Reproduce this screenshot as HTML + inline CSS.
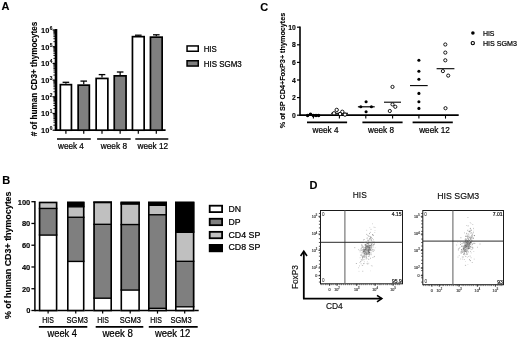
<!DOCTYPE html>
<html><head><meta charset="utf-8"><style>
html,body{margin:0;padding:0;background:#fff;width:520px;height:341px;overflow:hidden}
svg{display:block}
text{font-family:"Liberation Sans",sans-serif}
</style></head><body>
<svg style="filter:grayscale(1)" width="520" height="341" viewBox="0 0 520 341">
<rect width="520" height="341" fill="#fff"/>
<text x="1.6" y="9.5" font-size="11" font-weight="bold" text-anchor="start" fill="#000" stroke="#000" stroke-width="0.12">A</text>
<text transform="translate(37.4,78.9) rotate(-90)" x="0" y="0" font-size="8.8" font-weight="bold" text-anchor="middle" fill="#000" textLength="114.6" lengthAdjust="spacingAndGlyphs" stroke="#000" stroke-width="0.12"># of human CD3+ thymocytes</text>
<line x1="56.0" y1="29.0" x2="56.0" y2="131" stroke="#000" stroke-width="2.6"/>
<line x1="52.6" y1="130.2" x2="56.0" y2="130.2" stroke="#000" stroke-width="1.2"/>
<text x="49.3" y="133.1" font-size="7.4" font-weight="bold" text-anchor="end" fill="#000" stroke="#000" stroke-width="0.12">10</text>
<text x="49.7" y="130.1" font-size="4.8" font-weight="bold" text-anchor="start" fill="#000" stroke="#000" stroke-width="0.12">0</text>
<line x1="53.4" y1="125.17279907241151" x2="56.0" y2="125.17279907241151" stroke="#000" stroke-width="0.9"/>
<line x1="53.4" y1="122.23207504618162" x2="56.0" y2="122.23207504618162" stroke="#000" stroke-width="0.9"/>
<line x1="53.4" y1="120.14559814482301" x2="56.0" y2="120.14559814482301" stroke="#000" stroke-width="0.9"/>
<line x1="53.4" y1="118.52720092758847" x2="56.0" y2="118.52720092758847" stroke="#000" stroke-width="0.9"/>
<line x1="53.4" y1="117.20487411859314" x2="56.0" y2="117.20487411859314" stroke="#000" stroke-width="0.9"/>
<line x1="53.4" y1="116.0868627317619" x2="56.0" y2="116.0868627317619" stroke="#000" stroke-width="0.9"/>
<line x1="53.4" y1="115.11839721723453" x2="56.0" y2="115.11839721723453" stroke="#000" stroke-width="0.9"/>
<line x1="53.4" y1="114.26415009236327" x2="56.0" y2="114.26415009236327" stroke="#000" stroke-width="0.9"/>
<line x1="52.6" y1="113.49999999999999" x2="56.0" y2="113.49999999999999" stroke="#000" stroke-width="1.2"/>
<text x="49.3" y="116.39999999999999" font-size="7.4" font-weight="bold" text-anchor="end" fill="#000" stroke="#000" stroke-width="0.12">10</text>
<text x="49.7" y="113.39999999999999" font-size="4.8" font-weight="bold" text-anchor="start" fill="#000" stroke="#000" stroke-width="0.12">1</text>
<line x1="53.4" y1="108.4727990724115" x2="56.0" y2="108.4727990724115" stroke="#000" stroke-width="0.9"/>
<line x1="53.4" y1="105.53207504618162" x2="56.0" y2="105.53207504618162" stroke="#000" stroke-width="0.9"/>
<line x1="53.4" y1="103.44559814482301" x2="56.0" y2="103.44559814482301" stroke="#000" stroke-width="0.9"/>
<line x1="53.4" y1="101.82720092758848" x2="56.0" y2="101.82720092758848" stroke="#000" stroke-width="0.9"/>
<line x1="53.4" y1="100.50487411859314" x2="56.0" y2="100.50487411859314" stroke="#000" stroke-width="0.9"/>
<line x1="53.4" y1="99.3868627317619" x2="56.0" y2="99.3868627317619" stroke="#000" stroke-width="0.9"/>
<line x1="53.4" y1="98.41839721723453" x2="56.0" y2="98.41839721723453" stroke="#000" stroke-width="0.9"/>
<line x1="53.4" y1="97.56415009236326" x2="56.0" y2="97.56415009236326" stroke="#000" stroke-width="0.9"/>
<line x1="52.6" y1="96.79999999999998" x2="56.0" y2="96.79999999999998" stroke="#000" stroke-width="1.2"/>
<text x="49.3" y="99.69999999999999" font-size="7.4" font-weight="bold" text-anchor="end" fill="#000" stroke="#000" stroke-width="0.12">10</text>
<text x="49.7" y="96.69999999999999" font-size="4.8" font-weight="bold" text-anchor="start" fill="#000" stroke="#000" stroke-width="0.12">2</text>
<line x1="53.4" y1="91.7727990724115" x2="56.0" y2="91.7727990724115" stroke="#000" stroke-width="0.9"/>
<line x1="53.4" y1="88.83207504618161" x2="56.0" y2="88.83207504618161" stroke="#000" stroke-width="0.9"/>
<line x1="53.4" y1="86.745598144823" x2="56.0" y2="86.745598144823" stroke="#000" stroke-width="0.9"/>
<line x1="53.4" y1="85.12720092758846" x2="56.0" y2="85.12720092758846" stroke="#000" stroke-width="0.9"/>
<line x1="53.4" y1="83.80487411859313" x2="56.0" y2="83.80487411859313" stroke="#000" stroke-width="0.9"/>
<line x1="53.4" y1="82.68686273176189" x2="56.0" y2="82.68686273176189" stroke="#000" stroke-width="0.9"/>
<line x1="53.4" y1="81.71839721723452" x2="56.0" y2="81.71839721723452" stroke="#000" stroke-width="0.9"/>
<line x1="53.4" y1="80.86415009236326" x2="56.0" y2="80.86415009236326" stroke="#000" stroke-width="0.9"/>
<line x1="52.6" y1="80.1" x2="56.0" y2="80.1" stroke="#000" stroke-width="1.2"/>
<text x="49.3" y="83.0" font-size="7.4" font-weight="bold" text-anchor="end" fill="#000" stroke="#000" stroke-width="0.12">10</text>
<text x="49.7" y="80.0" font-size="4.8" font-weight="bold" text-anchor="start" fill="#000" stroke="#000" stroke-width="0.12">3</text>
<line x1="53.4" y1="75.07279907241151" x2="56.0" y2="75.07279907241151" stroke="#000" stroke-width="0.9"/>
<line x1="53.4" y1="72.13207504618163" x2="56.0" y2="72.13207504618163" stroke="#000" stroke-width="0.9"/>
<line x1="53.4" y1="70.04559814482302" x2="56.0" y2="70.04559814482302" stroke="#000" stroke-width="0.9"/>
<line x1="53.4" y1="68.42720092758847" x2="56.0" y2="68.42720092758847" stroke="#000" stroke-width="0.9"/>
<line x1="53.4" y1="67.10487411859314" x2="56.0" y2="67.10487411859314" stroke="#000" stroke-width="0.9"/>
<line x1="53.4" y1="65.9868627317619" x2="56.0" y2="65.9868627317619" stroke="#000" stroke-width="0.9"/>
<line x1="53.4" y1="65.01839721723454" x2="56.0" y2="65.01839721723454" stroke="#000" stroke-width="0.9"/>
<line x1="53.4" y1="64.16415009236327" x2="56.0" y2="64.16415009236327" stroke="#000" stroke-width="0.9"/>
<line x1="52.6" y1="63.39999999999999" x2="56.0" y2="63.39999999999999" stroke="#000" stroke-width="1.2"/>
<text x="49.3" y="66.3" font-size="7.4" font-weight="bold" text-anchor="end" fill="#000" stroke="#000" stroke-width="0.12">10</text>
<text x="49.7" y="63.29999999999999" font-size="4.8" font-weight="bold" text-anchor="start" fill="#000" stroke="#000" stroke-width="0.12">4</text>
<line x1="53.4" y1="58.3727990724115" x2="56.0" y2="58.3727990724115" stroke="#000" stroke-width="0.9"/>
<line x1="53.4" y1="55.43207504618163" x2="56.0" y2="55.43207504618163" stroke="#000" stroke-width="0.9"/>
<line x1="53.4" y1="53.34559814482302" x2="56.0" y2="53.34559814482302" stroke="#000" stroke-width="0.9"/>
<line x1="53.4" y1="51.72720092758848" x2="56.0" y2="51.72720092758848" stroke="#000" stroke-width="0.9"/>
<line x1="53.4" y1="50.40487411859314" x2="56.0" y2="50.40487411859314" stroke="#000" stroke-width="0.9"/>
<line x1="53.4" y1="49.2868627317619" x2="56.0" y2="49.2868627317619" stroke="#000" stroke-width="0.9"/>
<line x1="53.4" y1="48.31839721723453" x2="56.0" y2="48.31839721723453" stroke="#000" stroke-width="0.9"/>
<line x1="53.4" y1="47.46415009236327" x2="56.0" y2="47.46415009236327" stroke="#000" stroke-width="0.9"/>
<line x1="52.6" y1="46.69999999999999" x2="56.0" y2="46.69999999999999" stroke="#000" stroke-width="1.2"/>
<text x="49.3" y="49.59999999999999" font-size="7.4" font-weight="bold" text-anchor="end" fill="#000" stroke="#000" stroke-width="0.12">10</text>
<text x="49.7" y="46.59999999999999" font-size="4.8" font-weight="bold" text-anchor="start" fill="#000" stroke="#000" stroke-width="0.12">5</text>
<line x1="53.4" y1="41.6727990724115" x2="56.0" y2="41.6727990724115" stroke="#000" stroke-width="0.9"/>
<line x1="53.4" y1="38.73207504618163" x2="56.0" y2="38.73207504618163" stroke="#000" stroke-width="0.9"/>
<line x1="53.4" y1="36.64559814482302" x2="56.0" y2="36.64559814482302" stroke="#000" stroke-width="0.9"/>
<line x1="53.4" y1="35.027200927588474" x2="56.0" y2="35.027200927588474" stroke="#000" stroke-width="0.9"/>
<line x1="53.4" y1="33.70487411859314" x2="56.0" y2="33.70487411859314" stroke="#000" stroke-width="0.9"/>
<line x1="53.4" y1="32.5868627317619" x2="56.0" y2="32.5868627317619" stroke="#000" stroke-width="0.9"/>
<line x1="53.4" y1="31.61839721723453" x2="56.0" y2="31.61839721723453" stroke="#000" stroke-width="0.9"/>
<line x1="53.4" y1="30.764150092363266" x2="56.0" y2="30.764150092363266" stroke="#000" stroke-width="0.9"/>
<line x1="52.6" y1="30.0" x2="56.0" y2="30.0" stroke="#000" stroke-width="1.2"/>
<text x="49.3" y="32.9" font-size="7.4" font-weight="bold" text-anchor="end" fill="#000" stroke="#000" stroke-width="0.12">10</text>
<text x="49.7" y="29.9" font-size="4.8" font-weight="bold" text-anchor="start" fill="#000" stroke="#000" stroke-width="0.12">6</text>
<line x1="55" y1="130.2" x2="165.6" y2="130.2" stroke="#000" stroke-width="1.7"/>
<line x1="65.9" y1="83.8" x2="65.9" y2="82.3" stroke="#000" stroke-width="1.2"/>
<line x1="62.60000000000001" y1="82.3" x2="69.2" y2="82.3" stroke="#000" stroke-width="1.3"/>
<rect x="60.35" y="84.64999999999999" width="11.099999999999998" height="45.54999999999999" fill="#fff" stroke="#000" stroke-width="1.7"/>
<line x1="65.9" y1="130.2" x2="65.9" y2="133.8" stroke="#000" stroke-width="1.2"/>
<line x1="83.75" y1="84.3" x2="83.75" y2="81.1" stroke="#000" stroke-width="1.2"/>
<line x1="80.45" y1="81.1" x2="87.05" y2="81.1" stroke="#000" stroke-width="1.3"/>
<rect x="78.14999999999999" y="85.14999999999999" width="11.200000000000006" height="45.04999999999999" fill="#7f7f7f" stroke="#000" stroke-width="1.7"/>
<line x1="83.75" y1="130.2" x2="83.75" y2="133.8" stroke="#000" stroke-width="1.2"/>
<line x1="102.0" y1="77.6" x2="102.0" y2="74.6" stroke="#000" stroke-width="1.2"/>
<line x1="98.7" y1="74.6" x2="105.3" y2="74.6" stroke="#000" stroke-width="1.3"/>
<rect x="96.14999999999999" y="78.44999999999999" width="11.700000000000006" height="51.74999999999999" fill="#fff" stroke="#000" stroke-width="1.7"/>
<line x1="102.0" y1="130.2" x2="102.0" y2="133.8" stroke="#000" stroke-width="1.2"/>
<line x1="120.15" y1="75.0" x2="120.15" y2="72.0" stroke="#000" stroke-width="1.2"/>
<line x1="116.85000000000001" y1="72.0" x2="123.45" y2="72.0" stroke="#000" stroke-width="1.3"/>
<rect x="114.25" y="75.85" width="11.8" height="54.34999999999999" fill="#7f7f7f" stroke="#000" stroke-width="1.7"/>
<line x1="120.15" y1="130.2" x2="120.15" y2="133.8" stroke="#000" stroke-width="1.2"/>
<line x1="138.3" y1="35.8" x2="138.3" y2="35.2" stroke="#000" stroke-width="1.2"/>
<line x1="135.0" y1="35.2" x2="141.60000000000002" y2="35.2" stroke="#000" stroke-width="1.3"/>
<rect x="132.45" y="36.65" width="11.700000000000006" height="93.55" fill="#fff" stroke="#000" stroke-width="1.7"/>
<line x1="138.3" y1="130.2" x2="138.3" y2="133.8" stroke="#000" stroke-width="1.2"/>
<line x1="156.3" y1="36.3" x2="156.3" y2="34.8" stroke="#000" stroke-width="1.2"/>
<line x1="153.0" y1="34.8" x2="159.60000000000002" y2="34.8" stroke="#000" stroke-width="1.3"/>
<rect x="150.45" y="37.15" width="11.700000000000006" height="93.05" fill="#7f7f7f" stroke="#000" stroke-width="1.7"/>
<line x1="156.3" y1="130.2" x2="156.3" y2="133.8" stroke="#000" stroke-width="1.2"/>
<line x1="57" y1="139" x2="90.8" y2="139" stroke="#000" stroke-width="1.5"/>
<text x="58" y="148.5" font-size="8.5" font-weight="normal" text-anchor="start" fill="#000" textLength="25.900000000000006" lengthAdjust="spacingAndGlyphs" stroke="#000" stroke-width="0.22">week 4</text>
<line x1="97.1" y1="139" x2="130.7" y2="139" stroke="#000" stroke-width="1.5"/>
<text x="100.75" y="148.5" font-size="8.5" font-weight="normal" text-anchor="start" fill="#000" textLength="26.25" lengthAdjust="spacingAndGlyphs" stroke="#000" stroke-width="0.22">week 8</text>
<line x1="135.3" y1="139" x2="168.3" y2="139" stroke="#000" stroke-width="1.5"/>
<text x="137.5" y="148.5" font-size="8.5" font-weight="normal" text-anchor="start" fill="#000" textLength="30.69999999999999" lengthAdjust="spacingAndGlyphs" stroke="#000" stroke-width="0.22">week 12</text>
<rect x="187.05" y="45.95" width="11.2" height="5.3" fill="#fff" stroke="#000" stroke-width="1.5"/>
<rect x="187.05" y="60.75" width="11.2" height="5.3" fill="#7f7f7f" stroke="#000" stroke-width="1.5"/>
<text x="203.7" y="51.5" font-size="8.3" font-weight="normal" text-anchor="start" fill="#000" textLength="13.1" lengthAdjust="spacingAndGlyphs" stroke="#000" stroke-width="0.22">HIS</text>
<text x="203.7" y="67.1" font-size="8.3" font-weight="normal" text-anchor="start" fill="#000" textLength="38" lengthAdjust="spacingAndGlyphs" stroke="#000" stroke-width="0.22">HIS SGM3</text>
<text x="260.3" y="10.8" font-size="11" font-weight="bold" text-anchor="start" fill="#000" stroke="#000" stroke-width="0.12">C</text>
<text transform="translate(285.0,70.5) rotate(-90)" x="0" y="0" font-size="6.8" font-weight="bold" text-anchor="middle" fill="#000" textLength="115.6" lengthAdjust="spacingAndGlyphs" stroke="#000" stroke-width="0.12">% of SP CD4+FoxP3+ thymocytes</text>
<line x1="300" y1="26.6" x2="300" y2="116.0" stroke="#000" stroke-width="1.6"/>
<line x1="297" y1="115.2" x2="300" y2="115.2" stroke="#000" stroke-width="1.2"/>
<text x="295.7" y="117.7" font-size="6.8" font-weight="bold" text-anchor="end" fill="#000" stroke="#000" stroke-width="0.12">0</text>
<line x1="297" y1="97.6" x2="300" y2="97.6" stroke="#000" stroke-width="1.2"/>
<text x="295.7" y="100.1" font-size="6.8" font-weight="bold" text-anchor="end" fill="#000" stroke="#000" stroke-width="0.12">2</text>
<line x1="297" y1="80.0" x2="300" y2="80.0" stroke="#000" stroke-width="1.2"/>
<text x="295.7" y="82.5" font-size="6.8" font-weight="bold" text-anchor="end" fill="#000" stroke="#000" stroke-width="0.12">4</text>
<line x1="297" y1="62.4" x2="300" y2="62.4" stroke="#000" stroke-width="1.2"/>
<text x="295.7" y="64.9" font-size="6.8" font-weight="bold" text-anchor="end" fill="#000" stroke="#000" stroke-width="0.12">6</text>
<line x1="297" y1="44.8" x2="300" y2="44.8" stroke="#000" stroke-width="1.2"/>
<text x="295.7" y="47.3" font-size="6.8" font-weight="bold" text-anchor="end" fill="#000" stroke="#000" stroke-width="0.12">8</text>
<line x1="297" y1="27.200000000000003" x2="300" y2="27.200000000000003" stroke="#000" stroke-width="1.2"/>
<text x="295.7" y="29.700000000000003" font-size="6.8" font-weight="bold" text-anchor="end" fill="#000" stroke="#000" stroke-width="0.12">10</text>
<line x1="300" y1="115.2" x2="458.7" y2="115.2" stroke="#000" stroke-width="1.8"/>
<line x1="313.4" y1="115.2" x2="313.4" y2="118.6" stroke="#000" stroke-width="1.1"/>
<line x1="339.4" y1="115.2" x2="339.4" y2="118.6" stroke="#000" stroke-width="1.1"/>
<line x1="365.8" y1="115.2" x2="365.8" y2="118.6" stroke="#000" stroke-width="1.1"/>
<line x1="392.6" y1="115.2" x2="392.6" y2="118.6" stroke="#000" stroke-width="1.1"/>
<line x1="418.9" y1="115.2" x2="418.9" y2="118.6" stroke="#000" stroke-width="1.1"/>
<line x1="445.5" y1="115.2" x2="445.5" y2="118.6" stroke="#000" stroke-width="1.1"/>
<line x1="307.0" y1="122.4" x2="347.1" y2="122.4" stroke="#000" stroke-width="1.6"/>
<text x="312.5" y="132.6" font-size="8.3" font-weight="normal" text-anchor="start" fill="#000" textLength="26.0" lengthAdjust="spacingAndGlyphs" stroke="#000" stroke-width="0.22">week 4</text>
<line x1="362.4" y1="122.4" x2="402.6" y2="122.4" stroke="#000" stroke-width="1.6"/>
<text x="368.1" y="132.6" font-size="8.3" font-weight="normal" text-anchor="start" fill="#000" textLength="25.899999999999977" lengthAdjust="spacingAndGlyphs" stroke="#000" stroke-width="0.22">week 8</text>
<line x1="412.6" y1="122.4" x2="452.8" y2="122.4" stroke="#000" stroke-width="1.6"/>
<text x="419.2" y="132.6" font-size="8.3" font-weight="normal" text-anchor="start" fill="#000" textLength="30.600000000000023" lengthAdjust="spacingAndGlyphs" stroke="#000" stroke-width="0.22">week 12</text>
<circle cx="307.6" cy="115.6" r="1.75" fill="#000"/>
<circle cx="310.5" cy="114.3" r="1.75" fill="#000"/>
<circle cx="313.3" cy="115.4" r="1.75" fill="#000"/>
<circle cx="316.0" cy="115.5" r="1.75" fill="#000"/>
<circle cx="318.6" cy="115.4" r="1.75" fill="#000"/>
<line x1="308" y1="115" x2="319" y2="115" stroke="#000" stroke-width="1.2"/>
<line x1="331.2" y1="113.3" x2="348" y2="113.3" stroke="#000" stroke-width="1.1"/>
<circle cx="336.7" cy="109.9" r="1.7" fill="#fff" stroke="#000" stroke-width="0.9"/>
<circle cx="342.3" cy="111.8" r="1.7" fill="#fff" stroke="#000" stroke-width="0.9"/>
<circle cx="340.1" cy="114.0" r="1.7" fill="#fff" stroke="#000" stroke-width="0.9"/>
<circle cx="345.0" cy="114.6" r="1.7" fill="#fff" stroke="#000" stroke-width="0.9"/>
<circle cx="334.0" cy="113.3" r="1.7" fill="#fff" stroke="#000" stroke-width="0.9"/>
<line x1="357.9" y1="106.8" x2="374.7" y2="106.8" stroke="#000" stroke-width="1.2"/>
<circle cx="366.1" cy="101.8" r="1.55" fill="#000"/>
<circle cx="360.8" cy="106.8" r="1.55" fill="#000"/>
<circle cx="371.4" cy="106.8" r="1.55" fill="#000"/>
<circle cx="366.1" cy="111.7" r="1.55" fill="#000"/>
<line x1="384" y1="102.2" x2="401" y2="102.2" stroke="#000" stroke-width="1.1"/>
<circle cx="392.5" cy="86.9" r="1.6" fill="#fff" stroke="#000" stroke-width="0.9"/>
<circle cx="392.5" cy="104.4" r="1.6" fill="#fff" stroke="#000" stroke-width="0.9"/>
<circle cx="395.3" cy="106.8" r="1.6" fill="#fff" stroke="#000" stroke-width="0.9"/>
<circle cx="389.8" cy="111.0" r="1.6" fill="#fff" stroke="#000" stroke-width="0.9"/>
<line x1="410" y1="85.6" x2="427.7" y2="85.6" stroke="#000" stroke-width="1.1"/>
<circle cx="418.9" cy="60.3" r="1.55" fill="#000"/>
<circle cx="418.9" cy="71.2" r="1.55" fill="#000"/>
<circle cx="418.9" cy="79.2" r="1.55" fill="#000"/>
<circle cx="418.9" cy="93.4" r="1.55" fill="#000"/>
<circle cx="418.9" cy="101.8" r="1.55" fill="#000"/>
<circle cx="418.9" cy="108.4" r="1.55" fill="#000"/>
<line x1="436.6" y1="68.7" x2="454.4" y2="68.7" stroke="#000" stroke-width="1.1"/>
<circle cx="445.3" cy="44.5" r="1.6" fill="#fff" stroke="#000" stroke-width="0.9"/>
<circle cx="445.3" cy="52.6" r="1.6" fill="#fff" stroke="#000" stroke-width="0.9"/>
<circle cx="445.3" cy="60.3" r="1.6" fill="#fff" stroke="#000" stroke-width="0.9"/>
<circle cx="442.9" cy="71.1" r="1.6" fill="#fff" stroke="#000" stroke-width="0.9"/>
<circle cx="448.2" cy="75.6" r="1.6" fill="#fff" stroke="#000" stroke-width="0.9"/>
<circle cx="445.5" cy="108.2" r="1.6" fill="#fff" stroke="#000" stroke-width="0.9"/>
<circle cx="472.9" cy="33.0" r="1.8" fill="#000"/>
<circle cx="472.8" cy="43.1" r="1.65" fill="#fff" stroke="#000" stroke-width="1.1"/>
<text x="482.9" y="35.6" font-size="7.5" font-weight="normal" text-anchor="start" fill="#000" textLength="11.6" lengthAdjust="spacingAndGlyphs" stroke="#000" stroke-width="0.22">HIS</text>
<text x="482.9" y="45.7" font-size="7.5" font-weight="normal" text-anchor="start" fill="#000" textLength="34" lengthAdjust="spacingAndGlyphs" stroke="#000" stroke-width="0.22">HIS SGM3</text>
<text x="2.2" y="184.3" font-size="11" font-weight="bold" text-anchor="start" fill="#000" stroke="#000" stroke-width="0.12">B</text>
<text transform="translate(11.0,255.3) rotate(-90)" x="0" y="0" font-size="9.2" font-weight="bold" text-anchor="middle" fill="#000" textLength="127.6" lengthAdjust="spacingAndGlyphs" stroke="#000" stroke-width="0.12">% of human CD3+ thymocytes</text>
<line x1="34.9" y1="201.0" x2="34.9" y2="311.2" stroke="#000" stroke-width="1.5"/>
<line x1="31.4" y1="310.5" x2="34.9" y2="310.5" stroke="#000" stroke-width="1.3"/>
<text x="30.3" y="313.3" font-size="7.5" font-weight="bold" text-anchor="end" fill="#000" stroke="#000" stroke-width="0.12">0</text>
<line x1="31.4" y1="288.74" x2="34.9" y2="288.74" stroke="#000" stroke-width="1.3"/>
<text x="30.3" y="291.54" font-size="7.5" font-weight="bold" text-anchor="end" fill="#000" stroke="#000" stroke-width="0.12">20</text>
<line x1="31.4" y1="266.98" x2="34.9" y2="266.98" stroke="#000" stroke-width="1.3"/>
<text x="30.3" y="269.78000000000003" font-size="7.5" font-weight="bold" text-anchor="end" fill="#000" stroke="#000" stroke-width="0.12">40</text>
<line x1="31.4" y1="245.22" x2="34.9" y2="245.22" stroke="#000" stroke-width="1.3"/>
<text x="30.3" y="248.02" font-size="7.5" font-weight="bold" text-anchor="end" fill="#000" stroke="#000" stroke-width="0.12">60</text>
<line x1="31.4" y1="223.45999999999998" x2="34.9" y2="223.45999999999998" stroke="#000" stroke-width="1.3"/>
<text x="30.3" y="226.26" font-size="7.5" font-weight="bold" text-anchor="end" fill="#000" stroke="#000" stroke-width="0.12">80</text>
<line x1="31.4" y1="201.7" x2="34.9" y2="201.7" stroke="#000" stroke-width="1.3"/>
<text x="30.3" y="204.5" font-size="7.5" font-weight="bold" text-anchor="end" fill="#000" stroke="#000" stroke-width="0.12">100</text>
<line x1="34.9" y1="310.5" x2="198.7" y2="310.5" stroke="#000" stroke-width="1.5"/>
<rect x="38.8" y="235.1016" width="18.6" height="75.39840000000001" fill="#ffffff"/>
<rect x="38.8" y="208.4456" width="18.6" height="26.655999999999977" fill="#7f7f7f"/>
<line x1="38.8" y1="235.1016" x2="57.4" y2="235.1016" stroke="#000" stroke-width="1.4"/>
<rect x="38.8" y="201.7" width="18.6" height="6.7456000000000245" fill="#c0c0c0"/>
<line x1="38.8" y1="208.4456" x2="57.4" y2="208.4456" stroke="#000" stroke-width="1.4"/>
<rect x="39.599999999999994" y="202.5" width="17.0" height="108.00000000000001" fill="none" stroke="#000" stroke-width="1.6"/>
<line x1="48.099999999999994" y1="310.5" x2="48.099999999999994" y2="313.6" stroke="#000" stroke-width="1.2"/>
<rect x="67" y="261.4312" width="17.5" height="49.06880000000001" fill="#ffffff"/>
<rect x="67" y="217.2584" width="17.5" height="44.172799999999995" fill="#7f7f7f"/>
<line x1="67" y1="261.4312" x2="84.5" y2="261.4312" stroke="#000" stroke-width="1.4"/>
<rect x="67" y="206.8136" width="17.5" height="10.444799999999987" fill="#c0c0c0"/>
<line x1="67" y1="217.2584" x2="84.5" y2="217.2584" stroke="#000" stroke-width="1.4"/>
<rect x="67" y="201.7" width="17.5" height="5.1136000000000195" fill="#000000"/>
<line x1="67" y1="206.8136" x2="84.5" y2="206.8136" stroke="#000" stroke-width="1.4"/>
<rect x="67.8" y="202.5" width="15.9" height="108.00000000000001" fill="none" stroke="#000" stroke-width="1.6"/>
<line x1="75.75" y1="310.5" x2="75.75" y2="313.6" stroke="#000" stroke-width="1.2"/>
<rect x="93.3" y="298.2056" width="18.700000000000003" height="12.294399999999996" fill="#ffffff"/>
<rect x="93.3" y="224.3304" width="18.700000000000003" height="73.8752" fill="#7f7f7f"/>
<line x1="93.3" y1="298.2056" x2="112" y2="298.2056" stroke="#000" stroke-width="1.4"/>
<rect x="93.3" y="202.1352" width="18.700000000000003" height="22.1952" fill="#c0c0c0"/>
<line x1="93.3" y1="224.3304" x2="112" y2="224.3304" stroke="#000" stroke-width="1.4"/>
<rect x="93.3" y="201.7" width="18.700000000000003" height="0.4352000000000089" fill="#000000"/>
<line x1="93.3" y1="202.1352" x2="112" y2="202.1352" stroke="#000" stroke-width="1.4"/>
<rect x="94.1" y="202.5" width="17.1" height="108.00000000000001" fill="none" stroke="#000" stroke-width="1.6"/>
<line x1="102.65" y1="310.5" x2="102.65" y2="313.6" stroke="#000" stroke-width="1.2"/>
<rect x="120.5" y="290.1" width="19.400000000000006" height="20.399999999999977" fill="#ffffff"/>
<rect x="120.5" y="224.548" width="19.400000000000006" height="65.55200000000002" fill="#7f7f7f"/>
<line x1="120.5" y1="290.1" x2="139.9" y2="290.1" stroke="#000" stroke-width="1.4"/>
<rect x="120.5" y="204.09359999999998" width="19.400000000000006" height="20.45440000000002" fill="#c0c0c0"/>
<line x1="120.5" y1="224.548" x2="139.9" y2="224.548" stroke="#000" stroke-width="1.4"/>
<rect x="120.5" y="201.7" width="19.400000000000006" height="2.393599999999992" fill="#000000"/>
<line x1="120.5" y1="204.09359999999998" x2="139.9" y2="204.09359999999998" stroke="#000" stroke-width="1.4"/>
<rect x="121.3" y="202.5" width="17.800000000000004" height="108.00000000000001" fill="none" stroke="#000" stroke-width="1.6"/>
<line x1="130.2" y1="310.5" x2="130.2" y2="313.6" stroke="#000" stroke-width="1.2"/>
<rect x="148" y="308.324" width="19" height="2.1759999999999877" fill="#ffffff"/>
<rect x="148" y="214.756" width="19" height="93.56800000000001" fill="#7f7f7f"/>
<line x1="148" y1="308.324" x2="167" y2="308.324" stroke="#000" stroke-width="1.4"/>
<rect x="148" y="205.29039999999998" width="19" height="9.465600000000023" fill="#c0c0c0"/>
<line x1="148" y1="214.756" x2="167" y2="214.756" stroke="#000" stroke-width="1.4"/>
<rect x="148" y="201.7" width="19" height="3.5903999999999883" fill="#000000"/>
<line x1="148" y1="205.29039999999998" x2="167" y2="205.29039999999998" stroke="#000" stroke-width="1.4"/>
<rect x="148.8" y="202.5" width="17.4" height="108.00000000000001" fill="none" stroke="#000" stroke-width="1.6"/>
<line x1="157.5" y1="310.5" x2="157.5" y2="313.6" stroke="#000" stroke-width="1.2"/>
<rect x="175" y="306.8008" width="19.400000000000006" height="3.699200000000019" fill="#ffffff"/>
<rect x="175" y="261.3224" width="19.400000000000006" height="45.478399999999965" fill="#7f7f7f"/>
<line x1="175" y1="306.8008" x2="194.4" y2="306.8008" stroke="#000" stroke-width="1.4"/>
<rect x="175" y="232.2728" width="19.400000000000006" height="29.049600000000027" fill="#c0c0c0"/>
<line x1="175" y1="261.3224" x2="194.4" y2="261.3224" stroke="#000" stroke-width="1.4"/>
<rect x="175" y="201.7" width="19.400000000000006" height="30.5728" fill="#000000"/>
<line x1="175" y1="232.2728" x2="194.4" y2="232.2728" stroke="#000" stroke-width="1.4"/>
<rect x="175.8" y="202.5" width="17.800000000000004" height="108.00000000000001" fill="none" stroke="#000" stroke-width="1.6"/>
<line x1="184.7" y1="310.5" x2="184.7" y2="313.6" stroke="#000" stroke-width="1.2"/>
<text x="42.3" y="322.7" font-size="9.0" font-weight="normal" text-anchor="start" fill="#000" textLength="11.6" lengthAdjust="spacingAndGlyphs" stroke="#000" stroke-width="0.22">HIS</text>
<text x="66.6" y="322.7" font-size="9.0" font-weight="normal" text-anchor="start" fill="#000" textLength="21.3" lengthAdjust="spacingAndGlyphs" stroke="#000" stroke-width="0.22">SGM3</text>
<text x="97.2" y="322.7" font-size="9.0" font-weight="normal" text-anchor="start" fill="#000" textLength="11.6" lengthAdjust="spacingAndGlyphs" stroke="#000" stroke-width="0.22">HIS</text>
<text x="119.7" y="322.7" font-size="9.0" font-weight="normal" text-anchor="start" fill="#000" textLength="21.3" lengthAdjust="spacingAndGlyphs" stroke="#000" stroke-width="0.22">SGM3</text>
<text x="150.3" y="322.7" font-size="9.0" font-weight="normal" text-anchor="start" fill="#000" textLength="11.6" lengthAdjust="spacingAndGlyphs" stroke="#000" stroke-width="0.22">HIS</text>
<text x="170.5" y="322.7" font-size="9.0" font-weight="normal" text-anchor="start" fill="#000" textLength="21.3" lengthAdjust="spacingAndGlyphs" stroke="#000" stroke-width="0.22">SGM3</text>
<line x1="38.9" y1="326.8" x2="87.3" y2="326.8" stroke="#000" stroke-width="1.8"/>
<text x="47.5" y="336.7" font-size="10.0" font-weight="normal" text-anchor="start" fill="#000" textLength="29.5" lengthAdjust="spacingAndGlyphs" stroke="#000" stroke-width="0.22">week 4</text>
<line x1="95.7" y1="326.8" x2="143.3" y2="326.8" stroke="#000" stroke-width="1.8"/>
<text x="102.4" y="336.7" font-size="10.0" font-weight="normal" text-anchor="start" fill="#000" textLength="30.599999999999994" lengthAdjust="spacingAndGlyphs" stroke="#000" stroke-width="0.22">week 8</text>
<line x1="148.8" y1="326.8" x2="197.7" y2="326.8" stroke="#000" stroke-width="1.8"/>
<text x="155" y="336.7" font-size="10.0" font-weight="normal" text-anchor="start" fill="#000" textLength="35.19999999999999" lengthAdjust="spacingAndGlyphs" stroke="#000" stroke-width="0.22">week 12</text>
<rect x="209.7" y="205.7" width="12.4" height="6.4" fill="#ffffff" stroke="#000" stroke-width="1.8"/>
<text x="228.4" y="212.2" font-size="8.7" font-weight="normal" text-anchor="start" fill="#000" stroke="#000" stroke-width="0.22">DN</text>
<rect x="209.7" y="218.76999999999998" width="12.4" height="6.4" fill="#7f7f7f" stroke="#000" stroke-width="1.8"/>
<text x="228.4" y="224.88" font-size="8.7" font-weight="normal" text-anchor="start" fill="#000" stroke="#000" stroke-width="0.22">DP</text>
<rect x="209.7" y="231.83999999999997" width="12.4" height="6.4" fill="#c0c0c0" stroke="#000" stroke-width="1.8"/>
<text x="228.4" y="237.56" font-size="8.7" font-weight="normal" text-anchor="start" fill="#000" textLength="31.9" lengthAdjust="spacingAndGlyphs" stroke="#000" stroke-width="0.22">CD4 SP</text>
<rect x="209.7" y="244.91" width="12.4" height="6.4" fill="#000000" stroke="#000" stroke-width="1.8"/>
<text x="228.4" y="250.23999999999998" font-size="8.7" font-weight="normal" text-anchor="start" fill="#000" textLength="31.9" lengthAdjust="spacingAndGlyphs" stroke="#000" stroke-width="0.22">CD8 SP</text>
<text x="309.6" y="189.2" font-size="11" font-weight="bold" text-anchor="start" fill="#000" stroke="#000" stroke-width="0.12">D</text>
<text x="359.8" y="198.4" font-size="9.9" font-weight="normal" text-anchor="middle" fill="#111" textLength="14" lengthAdjust="spacingAndGlyphs" stroke="#111" stroke-width="0.17">HIS</text>
<text x="458.2" y="199.3" font-size="9.9" font-weight="normal" text-anchor="middle" fill="#111" textLength="42" lengthAdjust="spacingAndGlyphs" stroke="#111" stroke-width="0.17">HIS SGM3</text>
<rect x="320.5" y="210.5" width="82.0" height="73.30000000000001" fill="none" stroke="#1a1a1a" stroke-width="1"/>
<line x1="344.9" y1="210.5" x2="344.9" y2="283.8" stroke="#6a6a6a" stroke-width="1.1"/>
<line x1="320.5" y1="242.3" x2="402.5" y2="242.3" stroke="#2a2a2a" stroke-width="1.0"/>
<text x="321.9" y="215.6" font-size="4.6" font-weight="normal" text-anchor="start" fill="#333" stroke="#333" stroke-width="0.05">0</text>
<text x="322.1" y="282.2" font-size="4.6" font-weight="normal" text-anchor="start" fill="#333" stroke="#333" stroke-width="0.05">0</text>
<text x="401.5" y="215.9" font-size="5.0" font-weight="normal" text-anchor="end" fill="#222" stroke="#222" stroke-width="0.22">4.15</text>
<text x="401.7" y="282.6" font-size="5.0" font-weight="normal" text-anchor="end" fill="#222" stroke="#222" stroke-width="0.22">95.9</text>
<line x1="318.5" y1="216.3" x2="320.5" y2="216.3" stroke="#222" stroke-width="0.9"/>
<text x="317.3" y="217.60000000000002" font-size="3.7" font-weight="normal" text-anchor="end" fill="#555" stroke="#555" stroke-width="0.22">10<tspan font-size="2.6" dy="-1.6">5</tspan></text>
<line x1="318.5" y1="234.0" x2="320.5" y2="234.0" stroke="#222" stroke-width="0.9"/>
<text x="317.3" y="235.3" font-size="3.7" font-weight="normal" text-anchor="end" fill="#555" stroke="#555" stroke-width="0.22">10<tspan font-size="2.6" dy="-1.6">4</tspan></text>
<line x1="318.5" y1="250.4" x2="320.5" y2="250.4" stroke="#222" stroke-width="0.9"/>
<text x="317.3" y="251.70000000000002" font-size="3.7" font-weight="normal" text-anchor="end" fill="#555" stroke="#555" stroke-width="0.22">10<tspan font-size="2.6" dy="-1.6">3</tspan></text>
<line x1="318.5" y1="268.0" x2="320.5" y2="268.0" stroke="#222" stroke-width="0.9"/>
<text x="317.3" y="269.3" font-size="3.7" font-weight="normal" text-anchor="end" fill="#555" stroke="#555" stroke-width="0.22">10<tspan font-size="2.6" dy="-1.6">2</tspan></text>
<line x1="318.5" y1="275.7" x2="320.5" y2="275.7" stroke="#222" stroke-width="0.9"/>
<text x="317.3" y="277.0" font-size="3.7" font-weight="normal" text-anchor="end" fill="#555" stroke="#555" stroke-width="0.22">0</text>
<line x1="318.9" y1="213.4428554642118" x2="320.5" y2="213.4428554642118" stroke="#222" stroke-width="0.8"/>
<line x1="318.9" y1="217.17172686329658" x2="320.5" y2="217.17172686329658" stroke="#222" stroke-width="0.8"/>
<line x1="318.9" y1="221.20905270082847" x2="320.5" y2="221.20905270082847" stroke="#222" stroke-width="0.8"/>
<line x1="318.9" y1="224.25878008411973" x2="320.5" y2="224.25878008411973" stroke="#222" stroke-width="0.8"/>
<line x1="318.9" y1="227.90940952767474" x2="320.5" y2="227.90940952767474" stroke="#222" stroke-width="0.8"/>
<line x1="318.9" y1="231.60486179461986" x2="320.5" y2="231.60486179461986" stroke="#222" stroke-width="0.8"/>
<line x1="318.9" y1="234.72159241262585" x2="320.5" y2="234.72159241262585" stroke="#222" stroke-width="0.8"/>
<line x1="318.9" y1="238.71429036685015" x2="320.5" y2="238.71429036685015" stroke="#222" stroke-width="0.8"/>
<line x1="318.9" y1="242.45585926426017" x2="320.5" y2="242.45585926426017" stroke="#222" stroke-width="0.8"/>
<line x1="318.9" y1="246.25157224702394" x2="320.5" y2="246.25157224702394" stroke="#222" stroke-width="0.8"/>
<line x1="318.9" y1="249.01294814747507" x2="320.5" y2="249.01294814747507" stroke="#222" stroke-width="0.8"/>
<line x1="318.9" y1="252.86408151514942" x2="320.5" y2="252.86408151514942" stroke="#222" stroke-width="0.8"/>
<line x1="318.9" y1="256.2088046449902" x2="320.5" y2="256.2088046449902" stroke="#222" stroke-width="0.8"/>
<line x1="318.9" y1="260.67157344124064" x2="320.5" y2="260.67157344124064" stroke="#222" stroke-width="0.8"/>
<line x1="318.9" y1="264.13212617904946" x2="320.5" y2="264.13212617904946" stroke="#222" stroke-width="0.8"/>
<line x1="318.9" y1="266.95025640364383" x2="320.5" y2="266.95025640364383" stroke="#222" stroke-width="0.8"/>
<line x1="318.9" y1="271.6786321049586" x2="320.5" y2="271.6786321049586" stroke="#222" stroke-width="0.8"/>
<line x1="318.9" y1="275.25770933735066" x2="320.5" y2="275.25770933735066" stroke="#222" stroke-width="0.8"/>
<line x1="318.9" y1="278.4847070402406" x2="320.5" y2="278.4847070402406" stroke="#222" stroke-width="0.8"/>
<line x1="318.9" y1="282.0386752454943" x2="320.5" y2="282.0386752454943" stroke="#222" stroke-width="0.8"/>
<line x1="329.6" y1="283.8" x2="329.6" y2="285.8" stroke="#222" stroke-width="0.9"/>
<text x="329.6" y="290.8" font-size="3.7" font-weight="normal" text-anchor="middle" fill="#555" stroke="#555" stroke-width="0.22">0</text>
<line x1="337.0" y1="283.8" x2="337.0" y2="285.8" stroke="#222" stroke-width="0.9"/>
<text x="337.0" y="290.8" font-size="3.7" font-weight="normal" text-anchor="middle" fill="#555" stroke="#555" stroke-width="0.22">10<tspan font-size="2.6" dy="-1.6">2</tspan></text>
<line x1="356.7" y1="283.8" x2="356.7" y2="285.8" stroke="#222" stroke-width="0.9"/>
<text x="356.7" y="290.8" font-size="3.7" font-weight="normal" text-anchor="middle" fill="#555" stroke="#555" stroke-width="0.22">10<tspan font-size="2.6" dy="-1.6">3</tspan></text>
<line x1="375.1" y1="283.8" x2="375.1" y2="285.8" stroke="#222" stroke-width="0.9"/>
<text x="375.1" y="290.8" font-size="3.7" font-weight="normal" text-anchor="middle" fill="#555" stroke="#555" stroke-width="0.22">10<tspan font-size="2.6" dy="-1.6">4</tspan></text>
<line x1="393.1" y1="283.8" x2="393.1" y2="285.8" stroke="#222" stroke-width="0.9"/>
<text x="393.1" y="290.8" font-size="3.7" font-weight="normal" text-anchor="middle" fill="#555" stroke="#555" stroke-width="0.22">10<tspan font-size="2.6" dy="-1.6">5</tspan></text>
<line x1="321.22599527611214" y1="283.8" x2="321.22599527611214" y2="285.2" stroke="#333" stroke-width="0.6"/>
<line x1="323.11200058955967" y1="283.8" x2="323.11200058955967" y2="285.2" stroke="#333" stroke-width="0.6"/>
<line x1="325.5227050129364" y1="283.8" x2="325.5227050129364" y2="285.2" stroke="#333" stroke-width="0.6"/>
<line x1="327.14764088413506" y1="283.8" x2="327.14764088413506" y2="285.2" stroke="#333" stroke-width="0.6"/>
<line x1="329.25216661023836" y1="283.8" x2="329.25216661023836" y2="285.2" stroke="#333" stroke-width="0.6"/>
<line x1="331.2935544109322" y1="283.8" x2="331.2935544109322" y2="285.2" stroke="#333" stroke-width="0.6"/>
<line x1="333.12406607137984" y1="283.8" x2="333.12406607137984" y2="285.2" stroke="#333" stroke-width="0.6"/>
<line x1="335.4711475689786" y1="283.8" x2="335.4711475689786" y2="285.2" stroke="#333" stroke-width="0.6"/>
<line x1="337.4524248933253" y1="283.8" x2="337.4524248933253" y2="285.2" stroke="#333" stroke-width="0.6"/>
<line x1="339.77394170281485" y1="283.8" x2="339.77394170281485" y2="285.2" stroke="#333" stroke-width="0.6"/>
<line x1="341.5152992918113" y1="283.8" x2="341.5152992918113" y2="285.2" stroke="#333" stroke-width="0.6"/>
<line x1="343.6122333663353" y1="283.8" x2="343.6122333663353" y2="285.2" stroke="#333" stroke-width="0.6"/>
<line x1="345.4998185217654" y1="283.8" x2="345.4998185217654" y2="285.2" stroke="#333" stroke-width="0.6"/>
<line x1="347.6299596255123" y1="283.8" x2="347.6299596255123" y2="285.2" stroke="#333" stroke-width="0.6"/>
<line x1="349.46586390527966" y1="283.8" x2="349.46586390527966" y2="285.2" stroke="#333" stroke-width="0.6"/>
<line x1="351.32253031973113" y1="283.8" x2="351.32253031973113" y2="285.2" stroke="#333" stroke-width="0.6"/>
<line x1="353.89812496037047" y1="283.8" x2="353.89812496037047" y2="285.2" stroke="#333" stroke-width="0.6"/>
<line x1="355.89655331332494" y1="283.8" x2="355.89655331332494" y2="285.2" stroke="#333" stroke-width="0.6"/>
<line x1="357.77217243959427" y1="283.8" x2="357.77217243959427" y2="285.2" stroke="#333" stroke-width="0.6"/>
<line x1="359.66624769719834" y1="283.8" x2="359.66624769719834" y2="285.2" stroke="#333" stroke-width="0.6"/>
<line x1="361.3522217736124" y1="283.8" x2="361.3522217736124" y2="285.2" stroke="#333" stroke-width="0.6"/>
<line x1="363.2837327212863" y1="283.8" x2="363.2837327212863" y2="285.2" stroke="#333" stroke-width="0.6"/>
<line x1="365.33123195785134" y1="283.8" x2="365.33123195785134" y2="285.2" stroke="#333" stroke-width="0.6"/>
<line x1="367.15617879964793" y1="283.8" x2="367.15617879964793" y2="285.2" stroke="#333" stroke-width="0.6"/>
<line x1="369.7130303091283" y1="283.8" x2="369.7130303091283" y2="285.2" stroke="#333" stroke-width="0.6"/>
<line x1="371.4203198439348" y1="283.8" x2="371.4203198439348" y2="285.2" stroke="#333" stroke-width="0.6"/>
<line x1="373.77726689750494" y1="283.8" x2="373.77726689750494" y2="285.2" stroke="#333" stroke-width="0.6"/>
<line x1="375.40921082536477" y1="283.8" x2="375.40921082536477" y2="285.2" stroke="#333" stroke-width="0.6"/>
<line x1="377.86643390665586" y1="283.8" x2="377.86643390665586" y2="285.2" stroke="#333" stroke-width="0.6"/>
<line x1="379.7778478186423" y1="283.8" x2="379.7778478186423" y2="285.2" stroke="#333" stroke-width="0.6"/>
<line x1="381.10043594964446" y1="283.8" x2="381.10043594964446" y2="285.2" stroke="#333" stroke-width="0.6"/>
<line x1="383.26777393178367" y1="283.8" x2="383.26777393178367" y2="285.2" stroke="#333" stroke-width="0.6"/>
<line x1="385.82821754248334" y1="283.8" x2="385.82821754248334" y2="285.2" stroke="#333" stroke-width="0.6"/>
<line x1="387.4759898208109" y1="283.8" x2="387.4759898208109" y2="285.2" stroke="#333" stroke-width="0.6"/>
<line x1="389.8842871529394" y1="283.8" x2="389.8842871529394" y2="285.2" stroke="#333" stroke-width="0.6"/>
<line x1="391.41793951046344" y1="283.8" x2="391.41793951046344" y2="285.2" stroke="#333" stroke-width="0.6"/>
<line x1="393.15843067506694" y1="283.8" x2="393.15843067506694" y2="285.2" stroke="#333" stroke-width="0.6"/>
<line x1="395.60356392978724" y1="283.8" x2="395.60356392978724" y2="285.2" stroke="#333" stroke-width="0.6"/>
<line x1="397.72280868694133" y1="283.8" x2="397.72280868694133" y2="285.2" stroke="#333" stroke-width="0.6"/>
<line x1="399.3158204694801" y1="283.8" x2="399.3158204694801" y2="285.2" stroke="#333" stroke-width="0.6"/>
<rect x="368.4" y="254.8" width="0.8" height="0.8" fill="rgb(157,157,157)" fill-opacity="0.33"/>
<rect x="368.6" y="253.6" width="0.8" height="0.8" fill="rgb(120,120,120)" fill-opacity="0.63"/>
<rect x="367.8" y="247.3" width="0.8" height="0.8" fill="rgb(63,63,63)" fill-opacity="0.75"/>
<rect x="363.4" y="252.5" width="0.8" height="0.8" fill="rgb(158,158,158)" fill-opacity="0.30"/>
<rect x="362.7" y="251.2" width="0.8" height="0.8" fill="rgb(89,89,89)" fill-opacity="0.60"/>
<rect x="368.1" y="251.1" width="0.8" height="0.8" fill="rgb(62,62,62)" fill-opacity="0.31"/>
<rect x="362.2" y="246.6" width="0.8" height="0.8" fill="rgb(108,108,108)" fill-opacity="0.64"/>
<rect x="371.2" y="247.8" width="0.8" height="0.8" fill="rgb(127,127,127)" fill-opacity="0.41"/>
<rect x="363.9" y="250.8" width="0.8" height="0.8" fill="rgb(89,89,89)" fill-opacity="0.47"/>
<rect x="367.0" y="242.9" width="0.8" height="0.8" fill="rgb(97,97,97)" fill-opacity="0.76"/>
<rect x="361.0" y="253.5" width="0.8" height="0.8" fill="rgb(142,142,142)" fill-opacity="0.35"/>
<rect x="365.8" y="244.3" width="0.8" height="0.8" fill="rgb(97,97,97)" fill-opacity="0.36"/>
<rect x="363.4" y="254.6" width="0.8" height="0.8" fill="rgb(151,151,151)" fill-opacity="0.55"/>
<rect x="370.1" y="248.0" width="0.8" height="0.8" fill="rgb(145,145,145)" fill-opacity="0.39"/>
<rect x="362.5" y="259.5" width="0.8" height="0.8" fill="rgb(123,123,123)" fill-opacity="0.72"/>
<rect x="363.9" y="248.8" width="0.8" height="0.8" fill="rgb(64,64,64)" fill-opacity="0.54"/>
<rect x="368.1" y="244.9" width="0.8" height="0.8" fill="rgb(145,145,145)" fill-opacity="0.39"/>
<rect x="364.0" y="247.1" width="0.8" height="0.8" fill="rgb(146,146,146)" fill-opacity="0.67"/>
<rect x="369.1" y="252.1" width="0.8" height="0.8" fill="rgb(73,73,73)" fill-opacity="0.69"/>
<rect x="364.8" y="248.5" width="0.8" height="0.8" fill="rgb(122,122,122)" fill-opacity="0.67"/>
<rect x="364.8" y="249.7" width="0.8" height="0.8" fill="rgb(168,168,168)" fill-opacity="0.79"/>
<rect x="365.7" y="246.8" width="0.8" height="0.8" fill="rgb(81,81,81)" fill-opacity="0.38"/>
<rect x="366.9" y="249.6" width="0.8" height="0.8" fill="rgb(85,85,85)" fill-opacity="0.57"/>
<rect x="368.8" y="246.8" width="0.8" height="0.8" fill="rgb(125,125,125)" fill-opacity="0.47"/>
<rect x="369.2" y="245.9" width="0.8" height="0.8" fill="rgb(94,94,94)" fill-opacity="0.63"/>
<rect x="365.2" y="244.9" width="0.8" height="0.8" fill="rgb(109,109,109)" fill-opacity="0.69"/>
<rect x="371.4" y="241.5" width="0.8" height="0.8" fill="rgb(154,154,154)" fill-opacity="0.56"/>
<rect x="368.4" y="254.0" width="0.8" height="0.8" fill="rgb(86,86,86)" fill-opacity="0.51"/>
<rect x="370.7" y="251.8" width="0.8" height="0.8" fill="rgb(132,132,132)" fill-opacity="0.58"/>
<rect x="369.8" y="247.5" width="0.8" height="0.8" fill="rgb(164,164,164)" fill-opacity="0.48"/>
<rect x="364.1" y="253.1" width="0.8" height="0.8" fill="rgb(139,139,139)" fill-opacity="0.69"/>
<rect x="364.0" y="253.7" width="0.8" height="0.8" fill="rgb(162,162,162)" fill-opacity="0.41"/>
<rect x="367.0" y="253.8" width="0.8" height="0.8" fill="rgb(170,170,170)" fill-opacity="0.35"/>
<rect x="363.3" y="246.5" width="0.8" height="0.8" fill="rgb(92,92,92)" fill-opacity="0.32"/>
<rect x="368.0" y="248.5" width="0.8" height="0.8" fill="rgb(62,62,62)" fill-opacity="0.53"/>
<rect x="368.0" y="245.8" width="0.8" height="0.8" fill="rgb(94,94,94)" fill-opacity="0.35"/>
<rect x="366.2" y="246.4" width="0.8" height="0.8" fill="rgb(68,68,68)" fill-opacity="0.38"/>
<rect x="363.9" y="258.9" width="0.8" height="0.8" fill="rgb(144,144,144)" fill-opacity="0.44"/>
<rect x="367.7" y="244.7" width="0.8" height="0.8" fill="rgb(101,101,101)" fill-opacity="0.55"/>
<rect x="367.9" y="251.3" width="0.8" height="0.8" fill="rgb(103,103,103)" fill-opacity="0.51"/>
<rect x="366.9" y="250.8" width="0.8" height="0.8" fill="rgb(153,153,153)" fill-opacity="0.56"/>
<rect x="366.2" y="254.3" width="0.8" height="0.8" fill="rgb(164,164,164)" fill-opacity="0.79"/>
<rect x="366.2" y="253.0" width="0.8" height="0.8" fill="rgb(64,64,64)" fill-opacity="0.66"/>
<rect x="367.4" y="254.3" width="0.8" height="0.8" fill="rgb(146,146,146)" fill-opacity="0.51"/>
<rect x="373.1" y="239.4" width="0.8" height="0.8" fill="rgb(140,140,140)" fill-opacity="0.70"/>
<rect x="365.4" y="248.7" width="0.8" height="0.8" fill="rgb(143,143,143)" fill-opacity="0.32"/>
<rect x="367.0" y="242.6" width="0.8" height="0.8" fill="rgb(144,144,144)" fill-opacity="0.62"/>
<rect x="368.5" y="250.2" width="0.8" height="0.8" fill="rgb(87,87,87)" fill-opacity="0.74"/>
<rect x="363.1" y="256.4" width="0.8" height="0.8" fill="rgb(99,99,99)" fill-opacity="0.76"/>
<rect x="365.9" y="251.2" width="0.8" height="0.8" fill="rgb(132,132,132)" fill-opacity="0.43"/>
<rect x="371.8" y="249.4" width="0.8" height="0.8" fill="rgb(64,64,64)" fill-opacity="0.60"/>
<rect x="365.5" y="257.4" width="0.8" height="0.8" fill="rgb(118,118,118)" fill-opacity="0.39"/>
<rect x="373.8" y="241.0" width="0.8" height="0.8" fill="rgb(150,150,150)" fill-opacity="0.61"/>
<rect x="368.4" y="249.6" width="0.8" height="0.8" fill="rgb(72,72,72)" fill-opacity="0.40"/>
<rect x="367.0" y="245.2" width="0.8" height="0.8" fill="rgb(84,84,84)" fill-opacity="0.55"/>
<rect x="369.7" y="247.5" width="0.8" height="0.8" fill="rgb(124,124,124)" fill-opacity="0.55"/>
<rect x="362.6" y="256.2" width="0.8" height="0.8" fill="rgb(96,96,96)" fill-opacity="0.31"/>
<rect x="366.6" y="252.4" width="0.8" height="0.8" fill="rgb(132,132,132)" fill-opacity="0.69"/>
<rect x="365.4" y="251.3" width="0.8" height="0.8" fill="rgb(146,146,146)" fill-opacity="0.35"/>
<rect x="363.8" y="252.5" width="0.8" height="0.8" fill="rgb(167,167,167)" fill-opacity="0.64"/>
<rect x="359.7" y="250.1" width="0.8" height="0.8" fill="rgb(90,90,90)" fill-opacity="0.33"/>
<rect x="368.1" y="249.5" width="0.8" height="0.8" fill="rgb(81,81,81)" fill-opacity="0.76"/>
<rect x="366.0" y="255.6" width="0.8" height="0.8" fill="rgb(136,136,136)" fill-opacity="0.55"/>
<rect x="365.8" y="252.6" width="0.8" height="0.8" fill="rgb(74,74,74)" fill-opacity="0.45"/>
<rect x="370.4" y="245.0" width="0.8" height="0.8" fill="rgb(151,151,151)" fill-opacity="0.74"/>
<rect x="367.9" y="252.8" width="0.8" height="0.8" fill="rgb(73,73,73)" fill-opacity="0.46"/>
<rect x="364.4" y="251.2" width="0.8" height="0.8" fill="rgb(160,160,160)" fill-opacity="0.37"/>
<rect x="367.4" y="250.4" width="0.8" height="0.8" fill="rgb(135,135,135)" fill-opacity="0.69"/>
<rect x="363.7" y="252.6" width="0.8" height="0.8" fill="rgb(88,88,88)" fill-opacity="0.58"/>
<rect x="369.5" y="247.9" width="0.8" height="0.8" fill="rgb(97,97,97)" fill-opacity="0.58"/>
<rect x="370.0" y="247.0" width="0.8" height="0.8" fill="rgb(95,95,95)" fill-opacity="0.35"/>
<rect x="368.6" y="249.9" width="0.8" height="0.8" fill="rgb(138,138,138)" fill-opacity="0.64"/>
<rect x="367.7" y="250.1" width="0.8" height="0.8" fill="rgb(161,161,161)" fill-opacity="0.32"/>
<rect x="363.9" y="260.9" width="0.8" height="0.8" fill="rgb(113,113,113)" fill-opacity="0.38"/>
<rect x="363.0" y="250.8" width="0.8" height="0.8" fill="rgb(80,80,80)" fill-opacity="0.67"/>
<rect x="369.6" y="254.3" width="0.8" height="0.8" fill="rgb(108,108,108)" fill-opacity="0.70"/>
<rect x="363.3" y="247.0" width="0.8" height="0.8" fill="rgb(130,130,130)" fill-opacity="0.43"/>
<rect x="365.8" y="249.3" width="0.8" height="0.8" fill="rgb(143,143,143)" fill-opacity="0.46"/>
<rect x="370.8" y="250.2" width="0.8" height="0.8" fill="rgb(97,97,97)" fill-opacity="0.66"/>
<rect x="364.9" y="252.6" width="0.8" height="0.8" fill="rgb(111,111,111)" fill-opacity="0.33"/>
<rect x="374.1" y="243.5" width="0.8" height="0.8" fill="rgb(118,118,118)" fill-opacity="0.36"/>
<rect x="366.1" y="254.4" width="0.8" height="0.8" fill="rgb(129,129,129)" fill-opacity="0.73"/>
<rect x="364.6" y="249.7" width="0.8" height="0.8" fill="rgb(83,83,83)" fill-opacity="0.57"/>
<rect x="365.5" y="251.8" width="0.8" height="0.8" fill="rgb(70,70,70)" fill-opacity="0.71"/>
<rect x="369.3" y="252.6" width="0.8" height="0.8" fill="rgb(71,71,71)" fill-opacity="0.63"/>
<rect x="365.7" y="241.5" width="0.8" height="0.8" fill="rgb(109,109,109)" fill-opacity="0.78"/>
<rect x="368.3" y="249.7" width="0.8" height="0.8" fill="rgb(161,161,161)" fill-opacity="0.72"/>
<rect x="369.2" y="246.9" width="0.8" height="0.8" fill="rgb(102,102,102)" fill-opacity="0.35"/>
<rect x="365.1" y="244.3" width="0.8" height="0.8" fill="rgb(71,71,71)" fill-opacity="0.42"/>
<rect x="368.7" y="249.4" width="0.8" height="0.8" fill="rgb(69,69,69)" fill-opacity="0.43"/>
<rect x="371.0" y="244.2" width="0.8" height="0.8" fill="rgb(62,62,62)" fill-opacity="0.62"/>
<rect x="363.9" y="255.9" width="0.8" height="0.8" fill="rgb(123,123,123)" fill-opacity="0.53"/>
<rect x="368.1" y="247.6" width="0.8" height="0.8" fill="rgb(159,159,159)" fill-opacity="0.70"/>
<rect x="370.8" y="253.5" width="0.8" height="0.8" fill="rgb(82,82,82)" fill-opacity="0.39"/>
<rect x="367.2" y="250.8" width="0.8" height="0.8" fill="rgb(170,170,170)" fill-opacity="0.46"/>
<rect x="368.4" y="252.0" width="0.8" height="0.8" fill="rgb(137,137,137)" fill-opacity="0.45"/>
<rect x="368.5" y="247.6" width="0.8" height="0.8" fill="rgb(152,152,152)" fill-opacity="0.32"/>
<rect x="362.5" y="256.9" width="0.8" height="0.8" fill="rgb(162,162,162)" fill-opacity="0.64"/>
<rect x="362.5" y="245.9" width="0.8" height="0.8" fill="rgb(148,148,148)" fill-opacity="0.40"/>
<rect x="364.7" y="253.7" width="0.8" height="0.8" fill="rgb(66,66,66)" fill-opacity="0.66"/>
<rect x="366.9" y="246.3" width="0.8" height="0.8" fill="rgb(68,68,68)" fill-opacity="0.64"/>
<rect x="364.2" y="250.4" width="0.8" height="0.8" fill="rgb(92,92,92)" fill-opacity="0.57"/>
<rect x="369.6" y="245.5" width="0.8" height="0.8" fill="rgb(110,110,110)" fill-opacity="0.72"/>
<rect x="367.1" y="253.1" width="0.8" height="0.8" fill="rgb(161,161,161)" fill-opacity="0.62"/>
<rect x="363.5" y="251.6" width="0.8" height="0.8" fill="rgb(67,67,67)" fill-opacity="0.65"/>
<rect x="365.0" y="246.4" width="0.8" height="0.8" fill="rgb(77,77,77)" fill-opacity="0.43"/>
<rect x="369.2" y="245.5" width="0.8" height="0.8" fill="rgb(111,111,111)" fill-opacity="0.39"/>
<rect x="368.6" y="251.5" width="0.8" height="0.8" fill="rgb(82,82,82)" fill-opacity="0.56"/>
<rect x="363.5" y="249.0" width="0.8" height="0.8" fill="rgb(116,116,116)" fill-opacity="0.77"/>
<rect x="366.6" y="246.8" width="0.8" height="0.8" fill="rgb(100,100,100)" fill-opacity="0.55"/>
<rect x="365.2" y="249.4" width="0.8" height="0.8" fill="rgb(112,112,112)" fill-opacity="0.47"/>
<rect x="365.3" y="244.8" width="0.8" height="0.8" fill="rgb(143,143,143)" fill-opacity="0.44"/>
<rect x="366.8" y="248.0" width="0.8" height="0.8" fill="rgb(69,69,69)" fill-opacity="0.68"/>
<rect x="366.5" y="246.0" width="0.8" height="0.8" fill="rgb(125,125,125)" fill-opacity="0.68"/>
<rect x="369.2" y="246.7" width="0.8" height="0.8" fill="rgb(148,148,148)" fill-opacity="0.45"/>
<rect x="365.9" y="248.2" width="0.8" height="0.8" fill="rgb(149,149,149)" fill-opacity="0.67"/>
<rect x="364.4" y="244.6" width="0.8" height="0.8" fill="rgb(137,137,137)" fill-opacity="0.78"/>
<rect x="366.0" y="247.9" width="0.8" height="0.8" fill="rgb(92,92,92)" fill-opacity="0.51"/>
<rect x="371.3" y="246.7" width="0.8" height="0.8" fill="rgb(160,160,160)" fill-opacity="0.33"/>
<rect x="367.1" y="243.2" width="0.8" height="0.8" fill="rgb(104,104,104)" fill-opacity="0.49"/>
<rect x="369.9" y="244.9" width="0.8" height="0.8" fill="rgb(65,65,65)" fill-opacity="0.56"/>
<rect x="368.1" y="250.7" width="0.8" height="0.8" fill="rgb(72,72,72)" fill-opacity="0.43"/>
<rect x="373.8" y="243.7" width="0.8" height="0.8" fill="rgb(77,77,77)" fill-opacity="0.78"/>
<rect x="364.5" y="242.0" width="0.8" height="0.8" fill="rgb(147,147,147)" fill-opacity="0.65"/>
<rect x="360.9" y="252.1" width="0.8" height="0.8" fill="rgb(168,168,168)" fill-opacity="0.49"/>
<rect x="369.0" y="245.0" width="0.8" height="0.8" fill="rgb(81,81,81)" fill-opacity="0.76"/>
<rect x="363.3" y="251.1" width="0.8" height="0.8" fill="rgb(122,122,122)" fill-opacity="0.78"/>
<rect x="368.3" y="252.7" width="0.8" height="0.8" fill="rgb(112,112,112)" fill-opacity="0.75"/>
<rect x="366.8" y="246.3" width="0.8" height="0.8" fill="rgb(108,108,108)" fill-opacity="0.67"/>
<rect x="368.5" y="249.1" width="0.8" height="0.8" fill="rgb(116,116,116)" fill-opacity="0.59"/>
<rect x="372.7" y="251.1" width="0.8" height="0.8" fill="rgb(91,91,91)" fill-opacity="0.72"/>
<rect x="366.6" y="252.2" width="0.8" height="0.8" fill="rgb(129,129,129)" fill-opacity="0.40"/>
<rect x="363.6" y="255.2" width="0.8" height="0.8" fill="rgb(166,166,166)" fill-opacity="0.64"/>
<rect x="370.2" y="242.0" width="0.8" height="0.8" fill="rgb(81,81,81)" fill-opacity="0.57"/>
<rect x="362.1" y="249.5" width="0.8" height="0.8" fill="rgb(158,158,158)" fill-opacity="0.40"/>
<rect x="368.7" y="247.1" width="0.8" height="0.8" fill="rgb(163,163,163)" fill-opacity="0.35"/>
<rect x="368.0" y="247.1" width="0.8" height="0.8" fill="rgb(155,155,155)" fill-opacity="0.31"/>
<rect x="364.2" y="254.7" width="0.8" height="0.8" fill="rgb(152,152,152)" fill-opacity="0.79"/>
<rect x="367.8" y="252.6" width="0.8" height="0.8" fill="rgb(133,133,133)" fill-opacity="0.70"/>
<rect x="363.0" y="251.3" width="0.8" height="0.8" fill="rgb(157,157,157)" fill-opacity="0.56"/>
<rect x="369.6" y="249.0" width="0.8" height="0.8" fill="rgb(117,117,117)" fill-opacity="0.48"/>
<rect x="365.1" y="248.1" width="0.8" height="0.8" fill="rgb(153,153,153)" fill-opacity="0.64"/>
<rect x="363.5" y="249.3" width="0.8" height="0.8" fill="rgb(108,108,108)" fill-opacity="0.49"/>
<rect x="361.1" y="244.5" width="0.8" height="0.8" fill="rgb(141,141,141)" fill-opacity="0.60"/>
<rect x="371.9" y="243.9" width="0.8" height="0.8" fill="rgb(125,125,125)" fill-opacity="0.40"/>
<rect x="370.6" y="246.5" width="0.8" height="0.8" fill="rgb(126,126,126)" fill-opacity="0.50"/>
<rect x="370.3" y="237.2" width="0.8" height="0.8" fill="rgb(99,99,99)" fill-opacity="0.65"/>
<rect x="363.1" y="250.9" width="0.8" height="0.8" fill="rgb(85,85,85)" fill-opacity="0.48"/>
<rect x="369.4" y="249.1" width="0.8" height="0.8" fill="rgb(114,114,114)" fill-opacity="0.79"/>
<rect x="363.8" y="253.8" width="0.8" height="0.8" fill="rgb(153,153,153)" fill-opacity="0.65"/>
<rect x="368.0" y="248.7" width="0.8" height="0.8" fill="rgb(155,155,155)" fill-opacity="0.42"/>
<rect x="369.2" y="248.3" width="0.8" height="0.8" fill="rgb(62,62,62)" fill-opacity="0.50"/>
<rect x="365.9" y="244.9" width="0.8" height="0.8" fill="rgb(110,110,110)" fill-opacity="0.69"/>
<rect x="371.0" y="243.4" width="0.8" height="0.8" fill="rgb(164,164,164)" fill-opacity="0.69"/>
<rect x="372.1" y="249.6" width="0.8" height="0.8" fill="rgb(162,162,162)" fill-opacity="0.65"/>
<rect x="370.2" y="245.4" width="0.8" height="0.8" fill="rgb(79,79,79)" fill-opacity="0.53"/>
<rect x="366.2" y="251.4" width="0.8" height="0.8" fill="rgb(125,125,125)" fill-opacity="0.32"/>
<rect x="363.2" y="248.6" width="0.8" height="0.8" fill="rgb(114,114,114)" fill-opacity="0.33"/>
<rect x="368.8" y="250.8" width="0.8" height="0.8" fill="rgb(81,81,81)" fill-opacity="0.55"/>
<rect x="371.1" y="247.0" width="0.8" height="0.8" fill="rgb(111,111,111)" fill-opacity="0.62"/>
<rect x="365.7" y="252.4" width="0.8" height="0.8" fill="rgb(127,127,127)" fill-opacity="0.40"/>
<rect x="369.1" y="246.9" width="0.8" height="0.8" fill="rgb(69,69,69)" fill-opacity="0.65"/>
<rect x="370.9" y="245.9" width="0.8" height="0.8" fill="rgb(119,119,119)" fill-opacity="0.56"/>
<rect x="367.6" y="246.6" width="0.8" height="0.8" fill="rgb(143,143,143)" fill-opacity="0.67"/>
<rect x="370.1" y="248.9" width="0.8" height="0.8" fill="rgb(105,105,105)" fill-opacity="0.60"/>
<rect x="365.8" y="254.1" width="0.8" height="0.8" fill="rgb(82,82,82)" fill-opacity="0.54"/>
<rect x="365.2" y="254.5" width="0.8" height="0.8" fill="rgb(151,151,151)" fill-opacity="0.41"/>
<rect x="371.1" y="247.6" width="0.8" height="0.8" fill="rgb(168,168,168)" fill-opacity="0.63"/>
<rect x="371.8" y="242.5" width="0.8" height="0.8" fill="rgb(111,111,111)" fill-opacity="0.46"/>
<rect x="362.5" y="251.8" width="0.8" height="0.8" fill="rgb(160,160,160)" fill-opacity="0.43"/>
<rect x="369.6" y="251.9" width="0.8" height="0.8" fill="rgb(134,134,134)" fill-opacity="0.52"/>
<rect x="371.3" y="245.6" width="0.8" height="0.8" fill="rgb(137,137,137)" fill-opacity="0.77"/>
<rect x="365.4" y="249.6" width="0.8" height="0.8" fill="rgb(159,159,159)" fill-opacity="0.37"/>
<rect x="367.6" y="245.3" width="0.8" height="0.8" fill="rgb(156,156,156)" fill-opacity="0.50"/>
<rect x="367.7" y="250.8" width="0.8" height="0.8" fill="rgb(147,147,147)" fill-opacity="0.45"/>
<rect x="368.1" y="251.5" width="0.8" height="0.8" fill="rgb(123,123,123)" fill-opacity="0.76"/>
<rect x="367.8" y="248.7" width="0.8" height="0.8" fill="rgb(163,163,163)" fill-opacity="0.60"/>
<rect x="368.8" y="247.2" width="0.8" height="0.8" fill="rgb(64,64,64)" fill-opacity="0.55"/>
<rect x="363.6" y="247.9" width="0.8" height="0.8" fill="rgb(138,138,138)" fill-opacity="0.52"/>
<rect x="366.8" y="246.3" width="0.8" height="0.8" fill="rgb(138,138,138)" fill-opacity="0.65"/>
<rect x="368.3" y="251.3" width="0.8" height="0.8" fill="rgb(123,123,123)" fill-opacity="0.52"/>
<rect x="370.3" y="238.2" width="0.8" height="0.8" fill="rgb(90,90,90)" fill-opacity="0.71"/>
<rect x="363.6" y="250.2" width="0.8" height="0.8" fill="rgb(87,87,87)" fill-opacity="0.53"/>
<rect x="365.5" y="253.7" width="0.8" height="0.8" fill="rgb(74,74,74)" fill-opacity="0.75"/>
<rect x="367.8" y="249.0" width="0.8" height="0.8" fill="rgb(162,162,162)" fill-opacity="0.30"/>
<rect x="361.7" y="250.0" width="0.8" height="0.8" fill="rgb(168,168,168)" fill-opacity="0.59"/>
<rect x="369.7" y="247.0" width="0.8" height="0.8" fill="rgb(165,165,165)" fill-opacity="0.68"/>
<rect x="367.9" y="256.2" width="0.8" height="0.8" fill="rgb(61,61,61)" fill-opacity="0.49"/>
<rect x="370.2" y="245.5" width="0.8" height="0.8" fill="rgb(132,132,132)" fill-opacity="0.49"/>
<rect x="367.9" y="252.3" width="0.8" height="0.8" fill="rgb(167,167,167)" fill-opacity="0.45"/>
<rect x="369.8" y="249.4" width="0.8" height="0.8" fill="rgb(127,127,127)" fill-opacity="0.72"/>
<rect x="368.6" y="249.9" width="0.8" height="0.8" fill="rgb(75,75,75)" fill-opacity="0.52"/>
<rect x="366.7" y="253.4" width="0.8" height="0.8" fill="rgb(76,76,76)" fill-opacity="0.67"/>
<rect x="367.3" y="241.9" width="0.8" height="0.8" fill="rgb(144,144,144)" fill-opacity="0.52"/>
<rect x="365.3" y="251.8" width="0.8" height="0.8" fill="rgb(93,93,93)" fill-opacity="0.62"/>
<rect x="366.6" y="250.4" width="0.8" height="0.8" fill="rgb(160,160,160)" fill-opacity="0.60"/>
<rect x="363.8" y="253.4" width="0.8" height="0.8" fill="rgb(131,131,131)" fill-opacity="0.62"/>
<rect x="372.6" y="247.3" width="0.8" height="0.8" fill="rgb(130,130,130)" fill-opacity="0.51"/>
<rect x="366.2" y="256.8" width="0.8" height="0.8" fill="rgb(114,114,114)" fill-opacity="0.76"/>
<rect x="368.3" y="250.3" width="0.8" height="0.8" fill="rgb(138,138,138)" fill-opacity="0.66"/>
<rect x="367.9" y="246.0" width="0.8" height="0.8" fill="rgb(72,72,72)" fill-opacity="0.38"/>
<rect x="372.3" y="245.2" width="0.8" height="0.8" fill="rgb(169,169,169)" fill-opacity="0.32"/>
<rect x="365.6" y="242.3" width="0.8" height="0.8" fill="rgb(125,125,125)" fill-opacity="0.53"/>
<rect x="359.7" y="257.4" width="0.8" height="0.8" fill="rgb(65,65,65)" fill-opacity="0.36"/>
<rect x="370.1" y="250.2" width="0.8" height="0.8" fill="rgb(110,110,110)" fill-opacity="0.68"/>
<rect x="369.9" y="246.4" width="0.8" height="0.8" fill="rgb(154,154,154)" fill-opacity="0.56"/>
<rect x="369.5" y="252.9" width="0.8" height="0.8" fill="rgb(70,70,70)" fill-opacity="0.45"/>
<rect x="367.8" y="247.9" width="0.8" height="0.8" fill="rgb(93,93,93)" fill-opacity="0.46"/>
<rect x="368.4" y="254.2" width="0.8" height="0.8" fill="rgb(163,163,163)" fill-opacity="0.36"/>
<rect x="367.0" y="247.4" width="0.8" height="0.8" fill="rgb(167,167,167)" fill-opacity="0.42"/>
<rect x="365.4" y="247.7" width="0.8" height="0.8" fill="rgb(103,103,103)" fill-opacity="0.55"/>
<rect x="361.4" y="254.4" width="0.8" height="0.8" fill="rgb(121,121,121)" fill-opacity="0.35"/>
<rect x="366.6" y="245.4" width="0.8" height="0.8" fill="rgb(131,131,131)" fill-opacity="0.66"/>
<rect x="370.5" y="243.6" width="0.8" height="0.8" fill="rgb(128,128,128)" fill-opacity="0.32"/>
<rect x="374.8" y="247.4" width="0.8" height="0.8" fill="rgb(155,155,155)" fill-opacity="0.38"/>
<rect x="363.9" y="252.5" width="0.8" height="0.8" fill="rgb(72,72,72)" fill-opacity="0.50"/>
<rect x="367.3" y="250.0" width="0.8" height="0.8" fill="rgb(98,98,98)" fill-opacity="0.71"/>
<rect x="366.6" y="246.2" width="0.8" height="0.8" fill="rgb(98,98,98)" fill-opacity="0.46"/>
<rect x="364.5" y="255.6" width="0.8" height="0.8" fill="rgb(126,126,126)" fill-opacity="0.55"/>
<rect x="365.8" y="248.6" width="0.8" height="0.8" fill="rgb(153,153,153)" fill-opacity="0.46"/>
<rect x="366.2" y="250.3" width="0.8" height="0.8" fill="rgb(95,95,95)" fill-opacity="0.54"/>
<rect x="373.1" y="244.2" width="0.8" height="0.8" fill="rgb(108,108,108)" fill-opacity="0.71"/>
<rect x="373.1" y="244.9" width="0.8" height="0.8" fill="rgb(162,162,162)" fill-opacity="0.33"/>
<rect x="369.2" y="250.4" width="0.8" height="0.8" fill="rgb(169,169,169)" fill-opacity="0.80"/>
<rect x="369.6" y="242.9" width="0.8" height="0.8" fill="rgb(155,155,155)" fill-opacity="0.47"/>
<rect x="371.4" y="248.6" width="0.8" height="0.8" fill="rgb(107,107,107)" fill-opacity="0.50"/>
<rect x="359.7" y="251.5" width="0.8" height="0.8" fill="rgb(128,128,128)" fill-opacity="0.55"/>
<rect x="368.6" y="249.6" width="0.8" height="0.8" fill="rgb(88,88,88)" fill-opacity="0.58"/>
<rect x="368.7" y="247.6" width="0.8" height="0.8" fill="rgb(112,112,112)" fill-opacity="0.77"/>
<rect x="365.3" y="244.0" width="0.8" height="0.8" fill="rgb(129,129,129)" fill-opacity="0.64"/>
<rect x="367.4" y="246.4" width="0.8" height="0.8" fill="rgb(68,68,68)" fill-opacity="0.62"/>
<rect x="366.1" y="248.7" width="0.8" height="0.8" fill="rgb(69,69,69)" fill-opacity="0.70"/>
<rect x="365.7" y="256.5" width="0.8" height="0.8" fill="rgb(125,125,125)" fill-opacity="0.73"/>
<rect x="369.1" y="249.5" width="0.8" height="0.8" fill="rgb(168,168,168)" fill-opacity="0.54"/>
<rect x="368.4" y="246.4" width="0.8" height="0.8" fill="rgb(85,85,85)" fill-opacity="0.60"/>
<rect x="372.3" y="242.7" width="0.8" height="0.8" fill="rgb(114,114,114)" fill-opacity="0.53"/>
<rect x="361.5" y="255.5" width="0.8" height="0.8" fill="rgb(84,84,84)" fill-opacity="0.70"/>
<rect x="368.5" y="241.7" width="0.8" height="0.8" fill="rgb(92,92,92)" fill-opacity="0.50"/>
<rect x="369.9" y="249.3" width="0.8" height="0.8" fill="rgb(108,108,108)" fill-opacity="0.56"/>
<rect x="364.5" y="249.3" width="0.8" height="0.8" fill="rgb(125,125,125)" fill-opacity="0.70"/>
<rect x="366.6" y="248.4" width="0.8" height="0.8" fill="rgb(168,168,168)" fill-opacity="0.79"/>
<rect x="373.0" y="249.4" width="0.8" height="0.8" fill="rgb(149,149,149)" fill-opacity="0.65"/>
<rect x="368.2" y="249.1" width="0.8" height="0.8" fill="rgb(98,98,98)" fill-opacity="0.56"/>
<rect x="369.1" y="248.9" width="0.8" height="0.8" fill="rgb(159,159,159)" fill-opacity="0.57"/>
<rect x="364.9" y="246.8" width="0.8" height="0.8" fill="rgb(127,127,127)" fill-opacity="0.51"/>
<rect x="373.1" y="245.6" width="0.8" height="0.8" fill="rgb(126,126,126)" fill-opacity="0.50"/>
<rect x="366.3" y="246.5" width="0.8" height="0.8" fill="rgb(98,98,98)" fill-opacity="0.37"/>
<rect x="365.5" y="249.8" width="0.8" height="0.8" fill="rgb(158,158,158)" fill-opacity="0.79"/>
<rect x="367.3" y="253.9" width="0.8" height="0.8" fill="rgb(114,114,114)" fill-opacity="0.67"/>
<rect x="365.4" y="247.5" width="0.8" height="0.8" fill="rgb(111,111,111)" fill-opacity="0.44"/>
<rect x="366.5" y="243.4" width="0.8" height="0.8" fill="rgb(62,62,62)" fill-opacity="0.75"/>
<rect x="372.2" y="245.5" width="0.8" height="0.8" fill="rgb(109,109,109)" fill-opacity="0.43"/>
<rect x="364.4" y="255.9" width="0.8" height="0.8" fill="rgb(141,141,141)" fill-opacity="0.67"/>
<rect x="364.7" y="249.4" width="0.8" height="0.8" fill="rgb(118,118,118)" fill-opacity="0.70"/>
<rect x="365.6" y="249.2" width="0.8" height="0.8" fill="rgb(78,78,78)" fill-opacity="0.31"/>
<rect x="367.1" y="251.7" width="0.8" height="0.8" fill="rgb(169,169,169)" fill-opacity="0.36"/>
<rect x="371.2" y="239.5" width="0.8" height="0.8" fill="rgb(112,112,112)" fill-opacity="0.43"/>
<rect x="363.2" y="248.4" width="0.8" height="0.8" fill="rgb(148,148,148)" fill-opacity="0.44"/>
<rect x="362.0" y="256.6" width="0.8" height="0.8" fill="rgb(87,87,87)" fill-opacity="0.66"/>
<rect x="360.4" y="249.6" width="0.8" height="0.8" fill="rgb(151,151,151)" fill-opacity="0.51"/>
<rect x="368.2" y="250.1" width="0.8" height="0.8" fill="rgb(79,79,79)" fill-opacity="0.41"/>
<rect x="368.7" y="249.5" width="0.8" height="0.8" fill="rgb(121,121,121)" fill-opacity="0.69"/>
<rect x="368.8" y="252.4" width="0.8" height="0.8" fill="rgb(83,83,83)" fill-opacity="0.72"/>
<rect x="368.9" y="251.9" width="0.8" height="0.8" fill="rgb(66,66,66)" fill-opacity="0.57"/>
<rect x="365.1" y="248.2" width="0.8" height="0.8" fill="rgb(143,143,143)" fill-opacity="0.78"/>
<rect x="368.5" y="252.1" width="0.8" height="0.8" fill="rgb(113,113,113)" fill-opacity="0.72"/>
<rect x="370.5" y="236.0" width="0.8" height="0.8" fill="rgb(147,147,147)" fill-opacity="0.44"/>
<rect x="362.5" y="249.9" width="0.8" height="0.8" fill="rgb(169,169,169)" fill-opacity="0.32"/>
<rect x="366.1" y="254.6" width="0.8" height="0.8" fill="rgb(170,170,170)" fill-opacity="0.49"/>
<rect x="366.9" y="246.1" width="0.8" height="0.8" fill="rgb(125,125,125)" fill-opacity="0.55"/>
<rect x="363.4" y="252.4" width="0.8" height="0.8" fill="rgb(121,121,121)" fill-opacity="0.35"/>
<rect x="361.4" y="254.7" width="0.8" height="0.8" fill="rgb(85,85,85)" fill-opacity="0.38"/>
<rect x="364.8" y="255.6" width="0.8" height="0.8" fill="rgb(128,128,128)" fill-opacity="0.44"/>
<rect x="361.8" y="249.4" width="0.8" height="0.8" fill="rgb(129,129,129)" fill-opacity="0.76"/>
<rect x="369.4" y="243.6" width="0.8" height="0.8" fill="rgb(170,170,170)" fill-opacity="0.54"/>
<rect x="374.0" y="249.6" width="0.8" height="0.8" fill="rgb(144,144,144)" fill-opacity="0.47"/>
<rect x="371.1" y="244.8" width="0.8" height="0.8" fill="rgb(67,67,67)" fill-opacity="0.57"/>
<rect x="362.5" y="251.5" width="0.8" height="0.8" fill="rgb(167,167,167)" fill-opacity="0.35"/>
<rect x="365.1" y="248.8" width="0.8" height="0.8" fill="rgb(91,91,91)" fill-opacity="0.51"/>
<rect x="367.5" y="250.9" width="0.8" height="0.8" fill="rgb(131,131,131)" fill-opacity="0.62"/>
<rect x="367.9" y="248.2" width="0.8" height="0.8" fill="rgb(166,166,166)" fill-opacity="0.60"/>
<rect x="367.5" y="252.3" width="0.8" height="0.8" fill="rgb(95,95,95)" fill-opacity="0.54"/>
<rect x="364.7" y="253.4" width="0.8" height="0.8" fill="rgb(123,123,123)" fill-opacity="0.48"/>
<rect x="364.7" y="249.7" width="0.8" height="0.8" fill="rgb(137,137,137)" fill-opacity="0.68"/>
<rect x="368.4" y="243.7" width="0.8" height="0.8" fill="rgb(117,117,117)" fill-opacity="0.57"/>
<rect x="368.6" y="250.3" width="0.8" height="0.8" fill="rgb(148,148,148)" fill-opacity="0.37"/>
<rect x="371.1" y="237.0" width="0.8" height="0.8" fill="rgb(87,87,87)" fill-opacity="0.46"/>
<rect x="364.8" y="249.1" width="0.8" height="0.8" fill="rgb(76,76,76)" fill-opacity="0.74"/>
<rect x="367.3" y="246.3" width="0.8" height="0.8" fill="rgb(141,141,141)" fill-opacity="0.57"/>
<rect x="367.6" y="244.1" width="0.8" height="0.8" fill="rgb(147,147,147)" fill-opacity="0.36"/>
<rect x="364.9" y="247.2" width="0.8" height="0.8" fill="rgb(144,144,144)" fill-opacity="0.74"/>
<rect x="366.8" y="249.2" width="0.8" height="0.8" fill="rgb(62,62,62)" fill-opacity="0.71"/>
<rect x="368.5" y="246.5" width="0.8" height="0.8" fill="rgb(155,155,155)" fill-opacity="0.41"/>
<rect x="367.2" y="238.5" width="0.8" height="0.8" fill="rgb(103,103,103)" fill-opacity="0.43"/>
<rect x="367.7" y="245.2" width="0.8" height="0.8" fill="rgb(75,75,75)" fill-opacity="0.46"/>
<rect x="367.5" y="251.3" width="0.8" height="0.8" fill="rgb(158,158,158)" fill-opacity="0.37"/>
<rect x="365.5" y="247.3" width="0.8" height="0.8" fill="rgb(71,71,71)" fill-opacity="0.66"/>
<rect x="368.0" y="251.1" width="0.8" height="0.8" fill="rgb(94,94,94)" fill-opacity="0.56"/>
<rect x="366.0" y="250.2" width="0.8" height="0.8" fill="rgb(111,111,111)" fill-opacity="0.49"/>
<rect x="368.1" y="243.0" width="0.8" height="0.8" fill="rgb(72,72,72)" fill-opacity="0.64"/>
<rect x="363.3" y="263.3" width="0.8" height="0.8" fill="rgb(101,101,101)" fill-opacity="0.78"/>
<rect x="370.9" y="265.3" width="0.8" height="0.8" fill="rgb(161,161,161)" fill-opacity="0.62"/>
<rect x="367.0" y="247.0" width="0.8" height="0.8" fill="rgb(94,94,94)" fill-opacity="0.50"/>
<rect x="361.6" y="246.2" width="0.8" height="0.8" fill="rgb(127,127,127)" fill-opacity="0.54"/>
<rect x="355.9" y="263.0" width="0.8" height="0.8" fill="rgb(98,98,98)" fill-opacity="0.75"/>
<rect x="360.6" y="248.5" width="0.8" height="0.8" fill="rgb(66,66,66)" fill-opacity="0.60"/>
<rect x="366.3" y="258.3" width="0.8" height="0.8" fill="rgb(115,115,115)" fill-opacity="0.44"/>
<rect x="368.9" y="256.1" width="0.8" height="0.8" fill="rgb(127,127,127)" fill-opacity="0.43"/>
<rect x="368.4" y="262.8" width="0.8" height="0.8" fill="rgb(155,155,155)" fill-opacity="0.49"/>
<rect x="361.2" y="247.8" width="0.8" height="0.8" fill="rgb(129,129,129)" fill-opacity="0.58"/>
<rect x="365.6" y="247.2" width="0.8" height="0.8" fill="rgb(134,134,134)" fill-opacity="0.32"/>
<rect x="361.8" y="264.9" width="0.8" height="0.8" fill="rgb(79,79,79)" fill-opacity="0.34"/>
<rect x="358.7" y="250.0" width="0.8" height="0.8" fill="rgb(165,165,165)" fill-opacity="0.41"/>
<rect x="368.2" y="243.6" width="0.8" height="0.8" fill="rgb(102,102,102)" fill-opacity="0.48"/>
<rect x="363.4" y="258.9" width="0.8" height="0.8" fill="rgb(161,161,161)" fill-opacity="0.49"/>
<rect x="362.1" y="256.3" width="0.8" height="0.8" fill="rgb(136,136,136)" fill-opacity="0.37"/>
<rect x="362.3" y="265.2" width="0.8" height="0.8" fill="rgb(141,141,141)" fill-opacity="0.60"/>
<rect x="373.9" y="255.9" width="0.8" height="0.8" fill="rgb(164,164,164)" fill-opacity="0.62"/>
<rect x="360.3" y="261.2" width="0.8" height="0.8" fill="rgb(72,72,72)" fill-opacity="0.53"/>
<rect x="365.0" y="245.7" width="0.8" height="0.8" fill="rgb(114,114,114)" fill-opacity="0.44"/>
<rect x="361.2" y="260.2" width="0.8" height="0.8" fill="rgb(119,119,119)" fill-opacity="0.33"/>
<rect x="362.9" y="255.4" width="0.8" height="0.8" fill="rgb(150,150,150)" fill-opacity="0.65"/>
<rect x="366.9" y="242.8" width="0.8" height="0.8" fill="rgb(135,135,135)" fill-opacity="0.37"/>
<rect x="360.3" y="254.7" width="0.8" height="0.8" fill="rgb(94,94,94)" fill-opacity="0.69"/>
<rect x="354.4" y="247.3" width="0.8" height="0.8" fill="rgb(105,105,105)" fill-opacity="0.70"/>
<rect x="365.3" y="250.2" width="0.8" height="0.8" fill="rgb(163,163,163)" fill-opacity="0.61"/>
<rect x="371.8" y="265.6" width="0.8" height="0.8" fill="rgb(80,80,80)" fill-opacity="0.36"/>
<rect x="370.0" y="257.8" width="0.8" height="0.8" fill="rgb(114,114,114)" fill-opacity="0.74"/>
<rect x="360.7" y="263.4" width="0.8" height="0.8" fill="rgb(158,158,158)" fill-opacity="0.76"/>
<rect x="360.9" y="250.1" width="0.8" height="0.8" fill="rgb(105,105,105)" fill-opacity="0.45"/>
<rect x="365.7" y="248.1" width="0.8" height="0.8" fill="rgb(149,149,149)" fill-opacity="0.42"/>
<rect x="362.3" y="252.5" width="0.8" height="0.8" fill="rgb(103,103,103)" fill-opacity="0.64"/>
<rect x="365.9" y="252.3" width="0.8" height="0.8" fill="rgb(142,142,142)" fill-opacity="0.61"/>
<rect x="369.3" y="247.7" width="0.8" height="0.8" fill="rgb(75,75,75)" fill-opacity="0.79"/>
<rect x="372.5" y="257.0" width="0.8" height="0.8" fill="rgb(109,109,109)" fill-opacity="0.62"/>
<rect x="367.9" y="253.0" width="0.8" height="0.8" fill="rgb(89,89,89)" fill-opacity="0.35"/>
<rect x="358.6" y="270.9" width="0.8" height="0.8" fill="rgb(144,144,144)" fill-opacity="0.42"/>
<rect x="361.1" y="244.7" width="0.8" height="0.8" fill="rgb(107,107,107)" fill-opacity="0.55"/>
<rect x="364.9" y="243.9" width="0.8" height="0.8" fill="rgb(84,84,84)" fill-opacity="0.52"/>
<rect x="362.4" y="257.1" width="0.8" height="0.8" fill="rgb(122,122,122)" fill-opacity="0.76"/>
<rect x="365.2" y="251.6" width="0.8" height="0.8" fill="rgb(108,108,108)" fill-opacity="0.51"/>
<rect x="365.8" y="245.3" width="0.8" height="0.8" fill="rgb(83,83,83)" fill-opacity="0.53"/>
<rect x="360.6" y="260.8" width="0.8" height="0.8" fill="rgb(164,164,164)" fill-opacity="0.44"/>
<rect x="370.0" y="270.5" width="0.8" height="0.8" fill="rgb(165,165,165)" fill-opacity="0.35"/>
<rect x="363.9" y="262.8" width="0.8" height="0.8" fill="rgb(163,163,163)" fill-opacity="0.62"/>
<rect x="363.2" y="239.6" width="0.8" height="0.8" fill="rgb(128,128,128)" fill-opacity="0.65"/>
<rect x="369.0" y="254.5" width="0.8" height="0.8" fill="rgb(91,91,91)" fill-opacity="0.79"/>
<rect x="368.9" y="249.3" width="0.8" height="0.8" fill="rgb(103,103,103)" fill-opacity="0.63"/>
<rect x="368.4" y="259.0" width="0.8" height="0.8" fill="rgb(131,131,131)" fill-opacity="0.78"/>
<rect x="366.4" y="263.3" width="0.8" height="0.8" fill="rgb(125,125,125)" fill-opacity="0.41"/>
<rect x="364.1" y="257.0" width="0.8" height="0.8" fill="rgb(126,126,126)" fill-opacity="0.66"/>
<rect x="362.1" y="244.8" width="0.8" height="0.8" fill="rgb(143,143,143)" fill-opacity="0.80"/>
<rect x="367.6" y="258.3" width="0.8" height="0.8" fill="rgb(119,119,119)" fill-opacity="0.36"/>
<rect x="361.6" y="249.6" width="0.8" height="0.8" fill="rgb(131,131,131)" fill-opacity="0.35"/>
<rect x="364.5" y="253.1" width="0.8" height="0.8" fill="rgb(126,126,126)" fill-opacity="0.42"/>
<rect x="373.9" y="256.3" width="0.8" height="0.8" fill="rgb(99,99,99)" fill-opacity="0.53"/>
<rect x="363.6" y="250.8" width="0.8" height="0.8" fill="rgb(77,77,77)" fill-opacity="0.79"/>
<rect x="363.1" y="249.1" width="0.8" height="0.8" fill="rgb(128,128,128)" fill-opacity="0.62"/>
<rect x="371.2" y="254.4" width="0.8" height="0.8" fill="rgb(130,130,130)" fill-opacity="0.38"/>
<rect x="360.9" y="259.2" width="0.8" height="0.8" fill="rgb(85,85,85)" fill-opacity="0.55"/>
<rect x="362.4" y="270.8" width="0.8" height="0.8" fill="rgb(93,93,93)" fill-opacity="0.58"/>
<rect x="367.9" y="244.9" width="0.8" height="0.8" fill="rgb(139,139,139)" fill-opacity="0.34"/>
<rect x="358.1" y="267.4" width="0.8" height="0.8" fill="rgb(93,93,93)" fill-opacity="0.43"/>
<rect x="362.1" y="259.6" width="0.8" height="0.8" fill="rgb(119,119,119)" fill-opacity="0.31"/>
<rect x="373.7" y="249.9" width="0.8" height="0.8" fill="rgb(88,88,88)" fill-opacity="0.40"/>
<rect x="365.6" y="246.8" width="0.8" height="0.8" fill="rgb(85,85,85)" fill-opacity="0.57"/>
<rect x="363.4" y="249.9" width="0.8" height="0.8" fill="rgb(77,77,77)" fill-opacity="0.58"/>
<rect x="362.0" y="257.9" width="0.8" height="0.8" fill="rgb(140,140,140)" fill-opacity="0.77"/>
<rect x="367.4" y="263.5" width="0.8" height="0.8" fill="rgb(63,63,63)" fill-opacity="0.67"/>
<rect x="359.5" y="262.1" width="0.8" height="0.8" fill="rgb(135,135,135)" fill-opacity="0.60"/>
<rect x="361.7" y="247.2" width="0.8" height="0.8" fill="rgb(90,90,90)" fill-opacity="0.72"/>
<rect x="365.7" y="258.6" width="0.8" height="0.8" fill="rgb(152,152,152)" fill-opacity="0.79"/>
<rect x="359.2" y="265.5" width="0.8" height="0.8" fill="rgb(88,88,88)" fill-opacity="0.45"/>
<rect x="366.9" y="261.4" width="0.8" height="0.8" fill="rgb(97,97,97)" fill-opacity="0.34"/>
<rect x="365.3" y="250.8" width="0.8" height="0.8" fill="rgb(119,119,119)" fill-opacity="0.31"/>
<rect x="365.7" y="245.7" width="0.8" height="0.8" fill="rgb(73,73,73)" fill-opacity="0.61"/>
<rect x="364.1" y="249.6" width="0.8" height="0.8" fill="rgb(67,67,67)" fill-opacity="0.33"/>
<rect x="364.5" y="250.9" width="0.8" height="0.8" fill="rgb(76,76,76)" fill-opacity="0.78"/>
<rect x="362.7" y="252.6" width="0.8" height="0.8" fill="rgb(169,169,169)" fill-opacity="0.52"/>
<rect x="358.3" y="249.0" width="0.8" height="0.8" fill="rgb(124,124,124)" fill-opacity="0.55"/>
<rect x="373.4" y="244.5" width="0.8" height="0.8" fill="rgb(150,150,150)" fill-opacity="0.41"/>
<rect x="373.0" y="234.6" width="0.8" height="0.8" fill="rgb(126,126,126)" fill-opacity="0.37"/>
<rect x="369.1" y="233.3" width="0.8" height="0.8" fill="rgb(60,60,60)" fill-opacity="0.66"/>
<rect x="372.1" y="223.4" width="0.8" height="0.8" fill="rgb(132,132,132)" fill-opacity="0.49"/>
<rect x="366.1" y="237.8" width="0.8" height="0.8" fill="rgb(94,94,94)" fill-opacity="0.32"/>
<rect x="371.3" y="243.5" width="0.8" height="0.8" fill="rgb(130,130,130)" fill-opacity="0.55"/>
<rect x="373.5" y="226.7" width="0.8" height="0.8" fill="rgb(158,158,158)" fill-opacity="0.63"/>
<rect x="367.2" y="240.5" width="0.8" height="0.8" fill="rgb(145,145,145)" fill-opacity="0.72"/>
<rect x="371.7" y="241.7" width="0.8" height="0.8" fill="rgb(118,118,118)" fill-opacity="0.68"/>
<rect x="367.0" y="237.4" width="0.8" height="0.8" fill="rgb(153,153,153)" fill-opacity="0.57"/>
<rect x="374.4" y="232.0" width="0.8" height="0.8" fill="rgb(72,72,72)" fill-opacity="0.34"/>
<rect x="369.4" y="227.3" width="0.8" height="0.8" fill="rgb(166,166,166)" fill-opacity="0.52"/>
<rect x="372.7" y="235.2" width="0.8" height="0.8" fill="rgb(84,84,84)" fill-opacity="0.72"/>
<rect x="367.7" y="240.1" width="0.8" height="0.8" fill="rgb(89,89,89)" fill-opacity="0.48"/>
<rect x="374.6" y="227.2" width="0.8" height="0.8" fill="rgb(159,159,159)" fill-opacity="0.79"/>
<rect x="369.1" y="238.4" width="0.8" height="0.8" fill="rgb(65,65,65)" fill-opacity="0.72"/>
<rect x="370.1" y="239.5" width="0.8" height="0.8" fill="rgb(96,96,96)" fill-opacity="0.53"/>
<rect x="368.7" y="236.1" width="0.8" height="0.8" fill="rgb(170,170,170)" fill-opacity="0.72"/>
<rect x="363.2" y="246.6" width="0.8" height="0.8" fill="rgb(161,161,161)" fill-opacity="0.56"/>
<rect x="367.6" y="235.1" width="0.8" height="0.8" fill="rgb(94,94,94)" fill-opacity="0.75"/>
<rect x="363.8" y="239.1" width="0.8" height="0.8" fill="rgb(130,130,130)" fill-opacity="0.77"/>
<rect x="369.8" y="236.3" width="0.8" height="0.8" fill="rgb(98,98,98)" fill-opacity="0.59"/>
<rect x="368.9" y="239.6" width="0.8" height="0.8" fill="rgb(135,135,135)" fill-opacity="0.58"/>
<rect x="370.4" y="237.0" width="0.8" height="0.8" fill="rgb(137,137,137)" fill-opacity="0.69"/>
<rect x="369.9" y="231.9" width="0.8" height="0.8" fill="rgb(126,126,126)" fill-opacity="0.70"/>
<rect x="368.4" y="235.9" width="0.8" height="0.8" fill="rgb(133,133,133)" fill-opacity="0.56"/>
<rect x="371.3" y="239.7" width="0.8" height="0.8" fill="rgb(107,107,107)" fill-opacity="0.68"/>
<rect x="371.8" y="238.0" width="0.8" height="0.8" fill="rgb(69,69,69)" fill-opacity="0.54"/>
<rect x="366.3" y="229.8" width="0.8" height="0.8" fill="rgb(117,117,117)" fill-opacity="0.47"/>
<rect x="372.2" y="234.0" width="0.8" height="0.8" fill="rgb(80,80,80)" fill-opacity="0.75"/>
<rect x="368.6" y="239.2" width="0.8" height="0.8" fill="rgb(134,134,134)" fill-opacity="0.37"/>
<rect x="371.2" y="239.7" width="0.8" height="0.8" fill="rgb(125,125,125)" fill-opacity="0.51"/>
<rect x="368.0" y="240.5" width="0.8" height="0.8" fill="rgb(93,93,93)" fill-opacity="0.60"/>
<rect x="370.4" y="237.4" width="0.8" height="0.8" fill="rgb(140,140,140)" fill-opacity="0.42"/>
<rect x="370.6" y="228.9" width="0.8" height="0.8" fill="rgb(110,110,110)" fill-opacity="0.58"/>
<rect x="366.4" y="233.9" width="0.8" height="0.8" fill="rgb(69,69,69)" fill-opacity="0.65"/>
<rect x="374.6" y="230.0" width="0.8" height="0.8" fill="rgb(112,112,112)" fill-opacity="0.34"/>
<rect x="368.7" y="244.9" width="0.8" height="0.8" fill="rgb(93,93,93)" fill-opacity="0.42"/>
<rect x="372.8" y="241.7" width="0.8" height="0.8" fill="rgb(66,66,66)" fill-opacity="0.67"/>
<rect x="367.9" y="246.6" width="0.8" height="0.8" fill="rgb(86,86,86)" fill-opacity="0.71"/>
<rect x="422.8" y="210.5" width="80.69999999999999" height="74.19999999999999" fill="none" stroke="#1a1a1a" stroke-width="1"/>
<line x1="452.9" y1="210.5" x2="452.9" y2="284.7" stroke="#6a6a6a" stroke-width="1.1"/>
<line x1="422.8" y1="241.1" x2="503.5" y2="241.1" stroke="#2a2a2a" stroke-width="1.0"/>
<text x="424.2" y="215.6" font-size="4.6" font-weight="normal" text-anchor="start" fill="#333" stroke="#333" stroke-width="0.05">0</text>
<text x="424.40000000000003" y="283.09999999999997" font-size="4.6" font-weight="normal" text-anchor="start" fill="#333" stroke="#333" stroke-width="0.05">0</text>
<text x="502.5" y="215.9" font-size="5.0" font-weight="normal" text-anchor="end" fill="#222" stroke="#222" stroke-width="0.22">7.01</text>
<text x="502.7" y="283.5" font-size="5.0" font-weight="normal" text-anchor="end" fill="#222" stroke="#222" stroke-width="0.22">93</text>
<line x1="420.8" y1="216.3" x2="422.8" y2="216.3" stroke="#222" stroke-width="0.9"/>
<text x="419.6" y="217.60000000000002" font-size="3.7" font-weight="normal" text-anchor="end" fill="#555" stroke="#555" stroke-width="0.22">10<tspan font-size="2.6" dy="-1.6">5</tspan></text>
<line x1="420.8" y1="234.0" x2="422.8" y2="234.0" stroke="#222" stroke-width="0.9"/>
<text x="419.6" y="235.3" font-size="3.7" font-weight="normal" text-anchor="end" fill="#555" stroke="#555" stroke-width="0.22">10<tspan font-size="2.6" dy="-1.6">4</tspan></text>
<line x1="420.8" y1="250.4" x2="422.8" y2="250.4" stroke="#222" stroke-width="0.9"/>
<text x="419.6" y="251.70000000000002" font-size="3.7" font-weight="normal" text-anchor="end" fill="#555" stroke="#555" stroke-width="0.22">10<tspan font-size="2.6" dy="-1.6">3</tspan></text>
<line x1="420.8" y1="268.0" x2="422.8" y2="268.0" stroke="#222" stroke-width="0.9"/>
<text x="419.6" y="269.3" font-size="3.7" font-weight="normal" text-anchor="end" fill="#555" stroke="#555" stroke-width="0.22">10<tspan font-size="2.6" dy="-1.6">2</tspan></text>
<line x1="420.8" y1="275.7" x2="422.8" y2="275.7" stroke="#222" stroke-width="0.9"/>
<text x="419.6" y="277.0" font-size="3.7" font-weight="normal" text-anchor="end" fill="#555" stroke="#555" stroke-width="0.22">0</text>
<line x1="421.2" y1="213.46948481442627" x2="422.8" y2="213.46948481442627" stroke="#222" stroke-width="0.8"/>
<line x1="421.2" y1="217.2889670031887" x2="422.8" y2="217.2889670031887" stroke="#222" stroke-width="0.8"/>
<line x1="421.2" y1="220.8996925653498" x2="422.8" y2="220.8996925653498" stroke="#222" stroke-width="0.8"/>
<line x1="421.2" y1="223.87112042351046" x2="422.8" y2="223.87112042351046" stroke="#222" stroke-width="0.8"/>
<line x1="421.2" y1="227.31303253170807" x2="422.8" y2="227.31303253170807" stroke="#222" stroke-width="0.8"/>
<line x1="421.2" y1="231.34970539047603" x2="422.8" y2="231.34970539047603" stroke="#222" stroke-width="0.8"/>
<line x1="421.2" y1="234.828857767374" x2="422.8" y2="234.828857767374" stroke="#222" stroke-width="0.8"/>
<line x1="421.2" y1="239.07241766268208" x2="422.8" y2="239.07241766268208" stroke="#222" stroke-width="0.8"/>
<line x1="421.2" y1="242.52871118364644" x2="422.8" y2="242.52871118364644" stroke="#222" stroke-width="0.8"/>
<line x1="421.2" y1="246.02174844647328" x2="422.8" y2="246.02174844647328" stroke="#222" stroke-width="0.8"/>
<line x1="421.2" y1="249.56982805730402" x2="422.8" y2="249.56982805730402" stroke="#222" stroke-width="0.8"/>
<line x1="421.2" y1="253.2935853030464" x2="422.8" y2="253.2935853030464" stroke="#222" stroke-width="0.8"/>
<line x1="421.2" y1="256.2743633536521" x2="422.8" y2="256.2743633536521" stroke="#222" stroke-width="0.8"/>
<line x1="421.2" y1="260.2280657503097" x2="422.8" y2="260.2280657503097" stroke="#222" stroke-width="0.8"/>
<line x1="421.2" y1="263.49472078686665" x2="422.8" y2="263.49472078686665" stroke="#222" stroke-width="0.8"/>
<line x1="421.2" y1="267.9871675778352" x2="422.8" y2="267.9871675778352" stroke="#222" stroke-width="0.8"/>
<line x1="421.2" y1="270.57058919289307" x2="422.8" y2="270.57058919289307" stroke="#222" stroke-width="0.8"/>
<line x1="421.2" y1="275.0825841534105" x2="422.8" y2="275.0825841534105" stroke="#222" stroke-width="0.8"/>
<line x1="421.2" y1="277.78953156036306" x2="422.8" y2="277.78953156036306" stroke="#222" stroke-width="0.8"/>
<line x1="421.2" y1="282.12433460491224" x2="422.8" y2="282.12433460491224" stroke="#222" stroke-width="0.8"/>
<line x1="431.90000000000003" y1="284.7" x2="431.90000000000003" y2="286.7" stroke="#222" stroke-width="0.9"/>
<text x="431.90000000000003" y="291.7" font-size="3.7" font-weight="normal" text-anchor="middle" fill="#555" stroke="#555" stroke-width="0.22">0</text>
<line x1="439.3" y1="284.7" x2="439.3" y2="286.7" stroke="#222" stroke-width="0.9"/>
<text x="439.3" y="291.7" font-size="3.7" font-weight="normal" text-anchor="middle" fill="#555" stroke="#555" stroke-width="0.22">10<tspan font-size="2.6" dy="-1.6">2</tspan></text>
<line x1="459.0" y1="284.7" x2="459.0" y2="286.7" stroke="#222" stroke-width="0.9"/>
<text x="459.0" y="291.7" font-size="3.7" font-weight="normal" text-anchor="middle" fill="#555" stroke="#555" stroke-width="0.22">10<tspan font-size="2.6" dy="-1.6">3</tspan></text>
<line x1="477.40000000000003" y1="284.7" x2="477.40000000000003" y2="286.7" stroke="#222" stroke-width="0.9"/>
<text x="477.40000000000003" y="291.7" font-size="3.7" font-weight="normal" text-anchor="middle" fill="#555" stroke="#555" stroke-width="0.22">10<tspan font-size="2.6" dy="-1.6">4</tspan></text>
<line x1="495.4" y1="284.7" x2="495.4" y2="286.7" stroke="#222" stroke-width="0.9"/>
<text x="495.4" y="291.7" font-size="3.7" font-weight="normal" text-anchor="middle" fill="#555" stroke="#555" stroke-width="0.22">10<tspan font-size="2.6" dy="-1.6">5</tspan></text>
<line x1="423.66959967423344" y1="284.7" x2="423.66959967423344" y2="286.09999999999997" stroke="#333" stroke-width="0.6"/>
<line x1="425.7236914265029" y1="284.7" x2="425.7236914265029" y2="286.09999999999997" stroke="#333" stroke-width="0.6"/>
<line x1="428.0739226942501" y1="284.7" x2="428.0739226942501" y2="286.09999999999997" stroke="#333" stroke-width="0.6"/>
<line x1="429.41488344024964" y1="284.7" x2="429.41488344024964" y2="286.09999999999997" stroke="#333" stroke-width="0.6"/>
<line x1="431.44862775695117" y1="284.7" x2="431.44862775695117" y2="286.09999999999997" stroke="#333" stroke-width="0.6"/>
<line x1="434.132026914728" y1="284.7" x2="434.132026914728" y2="286.09999999999997" stroke="#333" stroke-width="0.6"/>
<line x1="435.80714073314215" y1="284.7" x2="435.80714073314215" y2="286.09999999999997" stroke="#333" stroke-width="0.6"/>
<line x1="437.4727823912469" y1="284.7" x2="437.4727823912469" y2="286.09999999999997" stroke="#333" stroke-width="0.6"/>
<line x1="440.1897071923245" y1="284.7" x2="440.1897071923245" y2="286.09999999999997" stroke="#333" stroke-width="0.6"/>
<line x1="442.1573704149946" y1="284.7" x2="442.1573704149946" y2="286.09999999999997" stroke="#333" stroke-width="0.6"/>
<line x1="443.49002210891763" y1="284.7" x2="443.49002210891763" y2="286.09999999999997" stroke="#333" stroke-width="0.6"/>
<line x1="445.73856528980326" y1="284.7" x2="445.73856528980326" y2="286.09999999999997" stroke="#333" stroke-width="0.6"/>
<line x1="447.50805560075935" y1="284.7" x2="447.50805560075935" y2="286.09999999999997" stroke="#333" stroke-width="0.6"/>
<line x1="449.65003255535385" y1="284.7" x2="449.65003255535385" y2="286.09999999999997" stroke="#333" stroke-width="0.6"/>
<line x1="451.89716155861714" y1="284.7" x2="451.89716155861714" y2="286.09999999999997" stroke="#333" stroke-width="0.6"/>
<line x1="453.5308193026552" y1="284.7" x2="453.5308193026552" y2="286.09999999999997" stroke="#333" stroke-width="0.6"/>
<line x1="455.9574675910805" y1="284.7" x2="455.9574675910805" y2="286.09999999999997" stroke="#333" stroke-width="0.6"/>
<line x1="457.441082653732" y1="284.7" x2="457.441082653732" y2="286.09999999999997" stroke="#333" stroke-width="0.6"/>
<line x1="459.5369712740615" y1="284.7" x2="459.5369712740615" y2="286.09999999999997" stroke="#333" stroke-width="0.6"/>
<line x1="462.05255811860326" y1="284.7" x2="462.05255811860326" y2="286.09999999999997" stroke="#333" stroke-width="0.6"/>
<line x1="463.72041495804456" y1="284.7" x2="463.72041495804456" y2="286.09999999999997" stroke="#333" stroke-width="0.6"/>
<line x1="465.7350721697101" y1="284.7" x2="465.7350721697101" y2="286.09999999999997" stroke="#333" stroke-width="0.6"/>
<line x1="467.876776781497" y1="284.7" x2="467.876776781497" y2="286.09999999999997" stroke="#333" stroke-width="0.6"/>
<line x1="469.7814145958978" y1="284.7" x2="469.7814145958978" y2="286.09999999999997" stroke="#333" stroke-width="0.6"/>
<line x1="471.7076651128599" y1="284.7" x2="471.7076651128599" y2="286.09999999999997" stroke="#333" stroke-width="0.6"/>
<line x1="473.42439550543264" y1="284.7" x2="473.42439550543264" y2="286.09999999999997" stroke="#333" stroke-width="0.6"/>
<line x1="475.981061941878" y1="284.7" x2="475.981061941878" y2="286.09999999999997" stroke="#333" stroke-width="0.6"/>
<line x1="478.17396710629384" y1="284.7" x2="478.17396710629384" y2="286.09999999999997" stroke="#333" stroke-width="0.6"/>
<line x1="480.1810430156428" y1="284.7" x2="480.1810430156428" y2="286.09999999999997" stroke="#333" stroke-width="0.6"/>
<line x1="481.9308768347595" y1="284.7" x2="481.9308768347595" y2="286.09999999999997" stroke="#333" stroke-width="0.6"/>
<line x1="483.6850761529272" y1="284.7" x2="483.6850761529272" y2="286.09999999999997" stroke="#333" stroke-width="0.6"/>
<line x1="485.6905028454431" y1="284.7" x2="485.6905028454431" y2="286.09999999999997" stroke="#333" stroke-width="0.6"/>
<line x1="487.95209157100675" y1="284.7" x2="487.95209157100675" y2="286.09999999999997" stroke="#333" stroke-width="0.6"/>
<line x1="489.93901825731933" y1="284.7" x2="489.93901825731933" y2="286.09999999999997" stroke="#333" stroke-width="0.6"/>
<line x1="491.49106592090357" y1="284.7" x2="491.49106592090357" y2="286.09999999999997" stroke="#333" stroke-width="0.6"/>
<line x1="493.58797794184227" y1="284.7" x2="493.58797794184227" y2="286.09999999999997" stroke="#333" stroke-width="0.6"/>
<line x1="495.69065790397684" y1="284.7" x2="495.69065790397684" y2="286.09999999999997" stroke="#333" stroke-width="0.6"/>
<line x1="497.80908040149944" y1="284.7" x2="497.80908040149944" y2="286.09999999999997" stroke="#333" stroke-width="0.6"/>
<line x1="500.04808565834213" y1="284.7" x2="500.04808565834213" y2="286.09999999999997" stroke="#333" stroke-width="0.6"/>
<line x1="501.8000096987451" y1="284.7" x2="501.8000096987451" y2="286.09999999999997" stroke="#333" stroke-width="0.6"/>
<rect x="473.6" y="241.6" width="0.8" height="0.8" fill="rgb(67,67,67)" fill-opacity="0.35"/>
<rect x="465.7" y="246.2" width="0.8" height="0.8" fill="rgb(163,163,163)" fill-opacity="0.63"/>
<rect x="464.5" y="249.4" width="0.8" height="0.8" fill="rgb(137,137,137)" fill-opacity="0.32"/>
<rect x="467.5" y="229.6" width="0.8" height="0.8" fill="rgb(141,141,141)" fill-opacity="0.50"/>
<rect x="469.7" y="231.5" width="0.8" height="0.8" fill="rgb(107,107,107)" fill-opacity="0.57"/>
<rect x="465.1" y="245.4" width="0.8" height="0.8" fill="rgb(64,64,64)" fill-opacity="0.74"/>
<rect x="461.4" y="251.3" width="0.8" height="0.8" fill="rgb(108,108,108)" fill-opacity="0.51"/>
<rect x="468.8" y="242.7" width="0.8" height="0.8" fill="rgb(82,82,82)" fill-opacity="0.42"/>
<rect x="469.1" y="244.8" width="0.8" height="0.8" fill="rgb(77,77,77)" fill-opacity="0.56"/>
<rect x="464.3" y="248.0" width="0.8" height="0.8" fill="rgb(131,131,131)" fill-opacity="0.39"/>
<rect x="471.9" y="239.9" width="0.8" height="0.8" fill="rgb(154,154,154)" fill-opacity="0.56"/>
<rect x="469.7" y="242.2" width="0.8" height="0.8" fill="rgb(135,135,135)" fill-opacity="0.48"/>
<rect x="473.7" y="243.1" width="0.8" height="0.8" fill="rgb(80,80,80)" fill-opacity="0.78"/>
<rect x="462.9" y="248.2" width="0.8" height="0.8" fill="rgb(143,143,143)" fill-opacity="0.57"/>
<rect x="461.6" y="244.9" width="0.8" height="0.8" fill="rgb(124,124,124)" fill-opacity="0.56"/>
<rect x="469.9" y="238.7" width="0.8" height="0.8" fill="rgb(118,118,118)" fill-opacity="0.75"/>
<rect x="463.8" y="245.6" width="0.8" height="0.8" fill="rgb(131,131,131)" fill-opacity="0.66"/>
<rect x="465.4" y="244.5" width="0.8" height="0.8" fill="rgb(101,101,101)" fill-opacity="0.71"/>
<rect x="471.8" y="237.3" width="0.8" height="0.8" fill="rgb(138,138,138)" fill-opacity="0.43"/>
<rect x="469.5" y="242.5" width="0.8" height="0.8" fill="rgb(162,162,162)" fill-opacity="0.65"/>
<rect x="464.3" y="244.2" width="0.8" height="0.8" fill="rgb(143,143,143)" fill-opacity="0.61"/>
<rect x="462.9" y="247.9" width="0.8" height="0.8" fill="rgb(122,122,122)" fill-opacity="0.56"/>
<rect x="470.9" y="242.1" width="0.8" height="0.8" fill="rgb(69,69,69)" fill-opacity="0.69"/>
<rect x="466.9" y="244.7" width="0.8" height="0.8" fill="rgb(164,164,164)" fill-opacity="0.40"/>
<rect x="467.6" y="242.9" width="0.8" height="0.8" fill="rgb(143,143,143)" fill-opacity="0.32"/>
<rect x="465.1" y="241.0" width="0.8" height="0.8" fill="rgb(73,73,73)" fill-opacity="0.68"/>
<rect x="467.7" y="246.7" width="0.8" height="0.8" fill="rgb(165,165,165)" fill-opacity="0.41"/>
<rect x="469.9" y="241.4" width="0.8" height="0.8" fill="rgb(151,151,151)" fill-opacity="0.68"/>
<rect x="468.9" y="245.6" width="0.8" height="0.8" fill="rgb(91,91,91)" fill-opacity="0.64"/>
<rect x="470.9" y="249.2" width="0.8" height="0.8" fill="rgb(63,63,63)" fill-opacity="0.32"/>
<rect x="469.8" y="242.4" width="0.8" height="0.8" fill="rgb(76,76,76)" fill-opacity="0.71"/>
<rect x="467.4" y="246.4" width="0.8" height="0.8" fill="rgb(148,148,148)" fill-opacity="0.30"/>
<rect x="464.7" y="240.5" width="0.8" height="0.8" fill="rgb(91,91,91)" fill-opacity="0.38"/>
<rect x="469.1" y="245.1" width="0.8" height="0.8" fill="rgb(138,138,138)" fill-opacity="0.61"/>
<rect x="468.2" y="241.0" width="0.8" height="0.8" fill="rgb(122,122,122)" fill-opacity="0.32"/>
<rect x="462.7" y="246.5" width="0.8" height="0.8" fill="rgb(154,154,154)" fill-opacity="0.32"/>
<rect x="465.8" y="248.3" width="0.8" height="0.8" fill="rgb(139,139,139)" fill-opacity="0.65"/>
<rect x="465.4" y="244.8" width="0.8" height="0.8" fill="rgb(144,144,144)" fill-opacity="0.64"/>
<rect x="467.7" y="243.5" width="0.8" height="0.8" fill="rgb(160,160,160)" fill-opacity="0.74"/>
<rect x="468.3" y="248.1" width="0.8" height="0.8" fill="rgb(110,110,110)" fill-opacity="0.54"/>
<rect x="462.7" y="251.5" width="0.8" height="0.8" fill="rgb(103,103,103)" fill-opacity="0.43"/>
<rect x="466.0" y="241.7" width="0.8" height="0.8" fill="rgb(62,62,62)" fill-opacity="0.65"/>
<rect x="471.1" y="242.8" width="0.8" height="0.8" fill="rgb(92,92,92)" fill-opacity="0.32"/>
<rect x="467.3" y="245.8" width="0.8" height="0.8" fill="rgb(141,141,141)" fill-opacity="0.42"/>
<rect x="471.4" y="241.2" width="0.8" height="0.8" fill="rgb(64,64,64)" fill-opacity="0.80"/>
<rect x="466.2" y="248.6" width="0.8" height="0.8" fill="rgb(92,92,92)" fill-opacity="0.34"/>
<rect x="465.7" y="251.3" width="0.8" height="0.8" fill="rgb(139,139,139)" fill-opacity="0.65"/>
<rect x="465.8" y="248.5" width="0.8" height="0.8" fill="rgb(127,127,127)" fill-opacity="0.68"/>
<rect x="467.6" y="247.5" width="0.8" height="0.8" fill="rgb(80,80,80)" fill-opacity="0.36"/>
<rect x="467.8" y="241.4" width="0.8" height="0.8" fill="rgb(72,72,72)" fill-opacity="0.31"/>
<rect x="467.8" y="242.4" width="0.8" height="0.8" fill="rgb(63,63,63)" fill-opacity="0.56"/>
<rect x="465.0" y="245.1" width="0.8" height="0.8" fill="rgb(142,142,142)" fill-opacity="0.49"/>
<rect x="467.4" y="238.1" width="0.8" height="0.8" fill="rgb(86,86,86)" fill-opacity="0.66"/>
<rect x="464.0" y="246.2" width="0.8" height="0.8" fill="rgb(134,134,134)" fill-opacity="0.60"/>
<rect x="473.1" y="238.1" width="0.8" height="0.8" fill="rgb(134,134,134)" fill-opacity="0.39"/>
<rect x="469.6" y="248.3" width="0.8" height="0.8" fill="rgb(106,106,106)" fill-opacity="0.31"/>
<rect x="468.5" y="243.8" width="0.8" height="0.8" fill="rgb(106,106,106)" fill-opacity="0.44"/>
<rect x="469.6" y="243.9" width="0.8" height="0.8" fill="rgb(62,62,62)" fill-opacity="0.74"/>
<rect x="465.9" y="245.3" width="0.8" height="0.8" fill="rgb(85,85,85)" fill-opacity="0.72"/>
<rect x="467.2" y="243.7" width="0.8" height="0.8" fill="rgb(117,117,117)" fill-opacity="0.33"/>
<rect x="466.5" y="240.9" width="0.8" height="0.8" fill="rgb(135,135,135)" fill-opacity="0.61"/>
<rect x="467.7" y="244.3" width="0.8" height="0.8" fill="rgb(99,99,99)" fill-opacity="0.77"/>
<rect x="469.8" y="247.4" width="0.8" height="0.8" fill="rgb(84,84,84)" fill-opacity="0.36"/>
<rect x="463.2" y="248.8" width="0.8" height="0.8" fill="rgb(77,77,77)" fill-opacity="0.68"/>
<rect x="465.9" y="245.5" width="0.8" height="0.8" fill="rgb(75,75,75)" fill-opacity="0.36"/>
<rect x="466.3" y="241.9" width="0.8" height="0.8" fill="rgb(110,110,110)" fill-opacity="0.78"/>
<rect x="467.3" y="243.5" width="0.8" height="0.8" fill="rgb(144,144,144)" fill-opacity="0.54"/>
<rect x="470.3" y="246.0" width="0.8" height="0.8" fill="rgb(97,97,97)" fill-opacity="0.48"/>
<rect x="462.5" y="246.2" width="0.8" height="0.8" fill="rgb(94,94,94)" fill-opacity="0.54"/>
<rect x="471.2" y="239.5" width="0.8" height="0.8" fill="rgb(153,153,153)" fill-opacity="0.70"/>
<rect x="472.3" y="241.2" width="0.8" height="0.8" fill="rgb(97,97,97)" fill-opacity="0.50"/>
<rect x="467.6" y="248.8" width="0.8" height="0.8" fill="rgb(130,130,130)" fill-opacity="0.51"/>
<rect x="467.3" y="236.2" width="0.8" height="0.8" fill="rgb(134,134,134)" fill-opacity="0.66"/>
<rect x="466.6" y="243.6" width="0.8" height="0.8" fill="rgb(82,82,82)" fill-opacity="0.80"/>
<rect x="467.7" y="247.6" width="0.8" height="0.8" fill="rgb(68,68,68)" fill-opacity="0.70"/>
<rect x="471.2" y="241.1" width="0.8" height="0.8" fill="rgb(163,163,163)" fill-opacity="0.62"/>
<rect x="467.9" y="246.7" width="0.8" height="0.8" fill="rgb(89,89,89)" fill-opacity="0.65"/>
<rect x="469.5" y="241.9" width="0.8" height="0.8" fill="rgb(82,82,82)" fill-opacity="0.56"/>
<rect x="468.5" y="247.5" width="0.8" height="0.8" fill="rgb(156,156,156)" fill-opacity="0.51"/>
<rect x="465.5" y="247.0" width="0.8" height="0.8" fill="rgb(125,125,125)" fill-opacity="0.43"/>
<rect x="470.1" y="241.6" width="0.8" height="0.8" fill="rgb(150,150,150)" fill-opacity="0.42"/>
<rect x="469.6" y="241.6" width="0.8" height="0.8" fill="rgb(157,157,157)" fill-opacity="0.59"/>
<rect x="467.8" y="247.7" width="0.8" height="0.8" fill="rgb(63,63,63)" fill-opacity="0.70"/>
<rect x="463.0" y="248.7" width="0.8" height="0.8" fill="rgb(110,110,110)" fill-opacity="0.56"/>
<rect x="464.6" y="244.7" width="0.8" height="0.8" fill="rgb(150,150,150)" fill-opacity="0.67"/>
<rect x="463.3" y="247.3" width="0.8" height="0.8" fill="rgb(106,106,106)" fill-opacity="0.78"/>
<rect x="463.5" y="250.1" width="0.8" height="0.8" fill="rgb(144,144,144)" fill-opacity="0.34"/>
<rect x="470.6" y="238.5" width="0.8" height="0.8" fill="rgb(128,128,128)" fill-opacity="0.61"/>
<rect x="463.3" y="247.7" width="0.8" height="0.8" fill="rgb(141,141,141)" fill-opacity="0.76"/>
<rect x="464.7" y="248.8" width="0.8" height="0.8" fill="rgb(119,119,119)" fill-opacity="0.63"/>
<rect x="467.6" y="243.6" width="0.8" height="0.8" fill="rgb(87,87,87)" fill-opacity="0.66"/>
<rect x="464.7" y="238.9" width="0.8" height="0.8" fill="rgb(72,72,72)" fill-opacity="0.49"/>
<rect x="463.9" y="241.7" width="0.8" height="0.8" fill="rgb(95,95,95)" fill-opacity="0.67"/>
<rect x="466.3" y="243.0" width="0.8" height="0.8" fill="rgb(162,162,162)" fill-opacity="0.61"/>
<rect x="470.7" y="244.6" width="0.8" height="0.8" fill="rgb(121,121,121)" fill-opacity="0.43"/>
<rect x="465.3" y="242.5" width="0.8" height="0.8" fill="rgb(86,86,86)" fill-opacity="0.79"/>
<rect x="468.5" y="240.6" width="0.8" height="0.8" fill="rgb(122,122,122)" fill-opacity="0.57"/>
<rect x="467.2" y="243.0" width="0.8" height="0.8" fill="rgb(135,135,135)" fill-opacity="0.54"/>
<rect x="467.2" y="241.1" width="0.8" height="0.8" fill="rgb(94,94,94)" fill-opacity="0.74"/>
<rect x="459.5" y="247.2" width="0.8" height="0.8" fill="rgb(138,138,138)" fill-opacity="0.68"/>
<rect x="467.3" y="250.2" width="0.8" height="0.8" fill="rgb(160,160,160)" fill-opacity="0.80"/>
<rect x="465.4" y="249.9" width="0.8" height="0.8" fill="rgb(166,166,166)" fill-opacity="0.73"/>
<rect x="467.6" y="246.1" width="0.8" height="0.8" fill="rgb(108,108,108)" fill-opacity="0.80"/>
<rect x="467.2" y="242.2" width="0.8" height="0.8" fill="rgb(96,96,96)" fill-opacity="0.58"/>
<rect x="469.7" y="243.5" width="0.8" height="0.8" fill="rgb(128,128,128)" fill-opacity="0.73"/>
<rect x="466.0" y="243.2" width="0.8" height="0.8" fill="rgb(146,146,146)" fill-opacity="0.45"/>
<rect x="466.7" y="240.6" width="0.8" height="0.8" fill="rgb(128,128,128)" fill-opacity="0.66"/>
<rect x="465.7" y="247.2" width="0.8" height="0.8" fill="rgb(100,100,100)" fill-opacity="0.45"/>
<rect x="466.3" y="238.6" width="0.8" height="0.8" fill="rgb(143,143,143)" fill-opacity="0.62"/>
<rect x="462.1" y="243.3" width="0.8" height="0.8" fill="rgb(125,125,125)" fill-opacity="0.62"/>
<rect x="464.0" y="247.4" width="0.8" height="0.8" fill="rgb(168,168,168)" fill-opacity="0.37"/>
<rect x="466.2" y="244.2" width="0.8" height="0.8" fill="rgb(65,65,65)" fill-opacity="0.42"/>
<rect x="465.3" y="245.1" width="0.8" height="0.8" fill="rgb(95,95,95)" fill-opacity="0.33"/>
<rect x="468.8" y="248.2" width="0.8" height="0.8" fill="rgb(160,160,160)" fill-opacity="0.49"/>
<rect x="465.0" y="246.9" width="0.8" height="0.8" fill="rgb(69,69,69)" fill-opacity="0.47"/>
<rect x="464.3" y="247.9" width="0.8" height="0.8" fill="rgb(97,97,97)" fill-opacity="0.53"/>
<rect x="468.3" y="249.0" width="0.8" height="0.8" fill="rgb(141,141,141)" fill-opacity="0.41"/>
<rect x="466.3" y="246.6" width="0.8" height="0.8" fill="rgb(90,90,90)" fill-opacity="0.53"/>
<rect x="469.6" y="236.6" width="0.8" height="0.8" fill="rgb(83,83,83)" fill-opacity="0.48"/>
<rect x="468.5" y="241.5" width="0.8" height="0.8" fill="rgb(163,163,163)" fill-opacity="0.58"/>
<rect x="462.5" y="249.3" width="0.8" height="0.8" fill="rgb(155,155,155)" fill-opacity="0.47"/>
<rect x="473.0" y="238.0" width="0.8" height="0.8" fill="rgb(124,124,124)" fill-opacity="0.59"/>
<rect x="468.0" y="240.8" width="0.8" height="0.8" fill="rgb(111,111,111)" fill-opacity="0.68"/>
<rect x="473.1" y="237.4" width="0.8" height="0.8" fill="rgb(156,156,156)" fill-opacity="0.78"/>
<rect x="468.0" y="239.5" width="0.8" height="0.8" fill="rgb(141,141,141)" fill-opacity="0.64"/>
<rect x="464.7" y="247.3" width="0.8" height="0.8" fill="rgb(82,82,82)" fill-opacity="0.43"/>
<rect x="470.1" y="241.8" width="0.8" height="0.8" fill="rgb(71,71,71)" fill-opacity="0.75"/>
<rect x="466.8" y="253.7" width="0.8" height="0.8" fill="rgb(76,76,76)" fill-opacity="0.78"/>
<rect x="467.9" y="245.8" width="0.8" height="0.8" fill="rgb(69,69,69)" fill-opacity="0.76"/>
<rect x="471.6" y="239.8" width="0.8" height="0.8" fill="rgb(115,115,115)" fill-opacity="0.30"/>
<rect x="463.3" y="251.1" width="0.8" height="0.8" fill="rgb(136,136,136)" fill-opacity="0.49"/>
<rect x="464.8" y="249.9" width="0.8" height="0.8" fill="rgb(79,79,79)" fill-opacity="0.48"/>
<rect x="466.7" y="248.8" width="0.8" height="0.8" fill="rgb(78,78,78)" fill-opacity="0.69"/>
<rect x="466.0" y="246.2" width="0.8" height="0.8" fill="rgb(106,106,106)" fill-opacity="0.43"/>
<rect x="465.5" y="246.8" width="0.8" height="0.8" fill="rgb(90,90,90)" fill-opacity="0.66"/>
<rect x="471.8" y="247.1" width="0.8" height="0.8" fill="rgb(142,142,142)" fill-opacity="0.68"/>
<rect x="468.2" y="245.1" width="0.8" height="0.8" fill="rgb(168,168,168)" fill-opacity="0.33"/>
<rect x="465.1" y="245.4" width="0.8" height="0.8" fill="rgb(101,101,101)" fill-opacity="0.56"/>
<rect x="469.3" y="241.3" width="0.8" height="0.8" fill="rgb(158,158,158)" fill-opacity="0.66"/>
<rect x="469.1" y="243.5" width="0.8" height="0.8" fill="rgb(66,66,66)" fill-opacity="0.50"/>
<rect x="463.6" y="245.2" width="0.8" height="0.8" fill="rgb(100,100,100)" fill-opacity="0.57"/>
<rect x="466.8" y="243.1" width="0.8" height="0.8" fill="rgb(125,125,125)" fill-opacity="0.57"/>
<rect x="474.7" y="243.2" width="0.8" height="0.8" fill="rgb(167,167,167)" fill-opacity="0.65"/>
<rect x="467.3" y="247.8" width="0.8" height="0.8" fill="rgb(117,117,117)" fill-opacity="0.32"/>
<rect x="470.8" y="252.5" width="0.8" height="0.8" fill="rgb(76,76,76)" fill-opacity="0.36"/>
<rect x="470.4" y="242.1" width="0.8" height="0.8" fill="rgb(82,82,82)" fill-opacity="0.34"/>
<rect x="463.7" y="251.0" width="0.8" height="0.8" fill="rgb(61,61,61)" fill-opacity="0.43"/>
<rect x="467.1" y="241.8" width="0.8" height="0.8" fill="rgb(63,63,63)" fill-opacity="0.37"/>
<rect x="467.2" y="242.8" width="0.8" height="0.8" fill="rgb(164,164,164)" fill-opacity="0.62"/>
<rect x="471.3" y="246.9" width="0.8" height="0.8" fill="rgb(90,90,90)" fill-opacity="0.33"/>
<rect x="467.4" y="245.1" width="0.8" height="0.8" fill="rgb(149,149,149)" fill-opacity="0.55"/>
<rect x="468.4" y="245.3" width="0.8" height="0.8" fill="rgb(60,60,60)" fill-opacity="0.71"/>
<rect x="463.9" y="243.4" width="0.8" height="0.8" fill="rgb(90,90,90)" fill-opacity="0.37"/>
<rect x="465.9" y="244.4" width="0.8" height="0.8" fill="rgb(74,74,74)" fill-opacity="0.42"/>
<rect x="462.6" y="245.8" width="0.8" height="0.8" fill="rgb(138,138,138)" fill-opacity="0.41"/>
<rect x="463.6" y="248.1" width="0.8" height="0.8" fill="rgb(169,169,169)" fill-opacity="0.50"/>
<rect x="470.5" y="242.4" width="0.8" height="0.8" fill="rgb(159,159,159)" fill-opacity="0.76"/>
<rect x="467.3" y="245.9" width="0.8" height="0.8" fill="rgb(164,164,164)" fill-opacity="0.38"/>
<rect x="468.8" y="243.6" width="0.8" height="0.8" fill="rgb(85,85,85)" fill-opacity="0.45"/>
<rect x="464.4" y="246.1" width="0.8" height="0.8" fill="rgb(110,110,110)" fill-opacity="0.46"/>
<rect x="466.3" y="246.0" width="0.8" height="0.8" fill="rgb(72,72,72)" fill-opacity="0.54"/>
<rect x="464.3" y="251.0" width="0.8" height="0.8" fill="rgb(95,95,95)" fill-opacity="0.41"/>
<rect x="467.9" y="238.4" width="0.8" height="0.8" fill="rgb(144,144,144)" fill-opacity="0.35"/>
<rect x="465.2" y="240.3" width="0.8" height="0.8" fill="rgb(87,87,87)" fill-opacity="0.40"/>
<rect x="465.0" y="241.5" width="0.8" height="0.8" fill="rgb(140,140,140)" fill-opacity="0.31"/>
<rect x="465.0" y="250.7" width="0.8" height="0.8" fill="rgb(129,129,129)" fill-opacity="0.32"/>
<rect x="470.0" y="236.9" width="0.8" height="0.8" fill="rgb(166,166,166)" fill-opacity="0.37"/>
<rect x="464.1" y="249.9" width="0.8" height="0.8" fill="rgb(73,73,73)" fill-opacity="0.37"/>
<rect x="467.9" y="235.9" width="0.8" height="0.8" fill="rgb(157,157,157)" fill-opacity="0.78"/>
<rect x="472.6" y="243.1" width="0.8" height="0.8" fill="rgb(119,119,119)" fill-opacity="0.61"/>
<rect x="468.7" y="243.8" width="0.8" height="0.8" fill="rgb(101,101,101)" fill-opacity="0.65"/>
<rect x="463.8" y="252.8" width="0.8" height="0.8" fill="rgb(132,132,132)" fill-opacity="0.33"/>
<rect x="471.1" y="240.8" width="0.8" height="0.8" fill="rgb(64,64,64)" fill-opacity="0.53"/>
<rect x="467.1" y="242.6" width="0.8" height="0.8" fill="rgb(149,149,149)" fill-opacity="0.67"/>
<rect x="467.7" y="244.1" width="0.8" height="0.8" fill="rgb(113,113,113)" fill-opacity="0.47"/>
<rect x="465.2" y="243.4" width="0.8" height="0.8" fill="rgb(127,127,127)" fill-opacity="0.67"/>
<rect x="470.0" y="241.6" width="0.8" height="0.8" fill="rgb(76,76,76)" fill-opacity="0.65"/>
<rect x="469.1" y="240.1" width="0.8" height="0.8" fill="rgb(118,118,118)" fill-opacity="0.79"/>
<rect x="463.6" y="248.0" width="0.8" height="0.8" fill="rgb(138,138,138)" fill-opacity="0.40"/>
<rect x="465.5" y="244.7" width="0.8" height="0.8" fill="rgb(120,120,120)" fill-opacity="0.73"/>
<rect x="466.3" y="245.6" width="0.8" height="0.8" fill="rgb(107,107,107)" fill-opacity="0.60"/>
<rect x="468.9" y="242.1" width="0.8" height="0.8" fill="rgb(138,138,138)" fill-opacity="0.63"/>
<rect x="466.4" y="243.3" width="0.8" height="0.8" fill="rgb(99,99,99)" fill-opacity="0.73"/>
<rect x="463.3" y="242.7" width="0.8" height="0.8" fill="rgb(72,72,72)" fill-opacity="0.31"/>
<rect x="468.9" y="242.4" width="0.8" height="0.8" fill="rgb(100,100,100)" fill-opacity="0.33"/>
<rect x="463.5" y="242.8" width="0.8" height="0.8" fill="rgb(145,145,145)" fill-opacity="0.47"/>
<rect x="464.4" y="245.8" width="0.8" height="0.8" fill="rgb(166,166,166)" fill-opacity="0.66"/>
<rect x="465.0" y="249.4" width="0.8" height="0.8" fill="rgb(87,87,87)" fill-opacity="0.38"/>
<rect x="466.1" y="241.9" width="0.8" height="0.8" fill="rgb(68,68,68)" fill-opacity="0.62"/>
<rect x="465.0" y="245.4" width="0.8" height="0.8" fill="rgb(70,70,70)" fill-opacity="0.55"/>
<rect x="471.4" y="235.8" width="0.8" height="0.8" fill="rgb(79,79,79)" fill-opacity="0.58"/>
<rect x="471.9" y="237.9" width="0.8" height="0.8" fill="rgb(89,89,89)" fill-opacity="0.40"/>
<rect x="468.1" y="236.5" width="0.8" height="0.8" fill="rgb(135,135,135)" fill-opacity="0.61"/>
<rect x="464.5" y="246.9" width="0.8" height="0.8" fill="rgb(142,142,142)" fill-opacity="0.41"/>
<rect x="469.8" y="246.5" width="0.8" height="0.8" fill="rgb(77,77,77)" fill-opacity="0.77"/>
<rect x="468.9" y="236.9" width="0.8" height="0.8" fill="rgb(75,75,75)" fill-opacity="0.79"/>
<rect x="464.2" y="247.2" width="0.8" height="0.8" fill="rgb(108,108,108)" fill-opacity="0.44"/>
<rect x="466.8" y="245.6" width="0.8" height="0.8" fill="rgb(127,127,127)" fill-opacity="0.71"/>
<rect x="470.5" y="249.5" width="0.8" height="0.8" fill="rgb(146,146,146)" fill-opacity="0.30"/>
<rect x="464.4" y="247.1" width="0.8" height="0.8" fill="rgb(89,89,89)" fill-opacity="0.56"/>
<rect x="468.7" y="247.1" width="0.8" height="0.8" fill="rgb(126,126,126)" fill-opacity="0.77"/>
<rect x="466.3" y="244.4" width="0.8" height="0.8" fill="rgb(118,118,118)" fill-opacity="0.67"/>
<rect x="467.0" y="245.2" width="0.8" height="0.8" fill="rgb(121,121,121)" fill-opacity="0.32"/>
<rect x="466.9" y="242.1" width="0.8" height="0.8" fill="rgb(90,90,90)" fill-opacity="0.57"/>
<rect x="465.8" y="240.5" width="0.8" height="0.8" fill="rgb(157,157,157)" fill-opacity="0.35"/>
<rect x="466.4" y="243.7" width="0.8" height="0.8" fill="rgb(145,145,145)" fill-opacity="0.37"/>
<rect x="467.3" y="243.3" width="0.8" height="0.8" fill="rgb(125,125,125)" fill-opacity="0.63"/>
<rect x="461.0" y="245.9" width="0.8" height="0.8" fill="rgb(105,105,105)" fill-opacity="0.68"/>
<rect x="467.3" y="242.6" width="0.8" height="0.8" fill="rgb(106,106,106)" fill-opacity="0.35"/>
<rect x="468.8" y="240.6" width="0.8" height="0.8" fill="rgb(141,141,141)" fill-opacity="0.44"/>
<rect x="465.1" y="244.7" width="0.8" height="0.8" fill="rgb(136,136,136)" fill-opacity="0.78"/>
<rect x="469.2" y="244.9" width="0.8" height="0.8" fill="rgb(167,167,167)" fill-opacity="0.62"/>
<rect x="460.7" y="253.1" width="0.8" height="0.8" fill="rgb(128,128,128)" fill-opacity="0.66"/>
<rect x="468.2" y="243.1" width="0.8" height="0.8" fill="rgb(129,129,129)" fill-opacity="0.55"/>
<rect x="468.8" y="240.1" width="0.8" height="0.8" fill="rgb(90,90,90)" fill-opacity="0.70"/>
<rect x="467.3" y="245.3" width="0.8" height="0.8" fill="rgb(135,135,135)" fill-opacity="0.68"/>
<rect x="467.9" y="240.6" width="0.8" height="0.8" fill="rgb(83,83,83)" fill-opacity="0.45"/>
<rect x="468.0" y="243.7" width="0.8" height="0.8" fill="rgb(91,91,91)" fill-opacity="0.58"/>
<rect x="469.1" y="243.2" width="0.8" height="0.8" fill="rgb(68,68,68)" fill-opacity="0.75"/>
<rect x="468.6" y="247.8" width="0.8" height="0.8" fill="rgb(68,68,68)" fill-opacity="0.42"/>
<rect x="466.3" y="243.7" width="0.8" height="0.8" fill="rgb(148,148,148)" fill-opacity="0.50"/>
<rect x="465.3" y="244.3" width="0.8" height="0.8" fill="rgb(143,143,143)" fill-opacity="0.41"/>
<rect x="459.9" y="242.2" width="0.8" height="0.8" fill="rgb(111,111,111)" fill-opacity="0.51"/>
<rect x="468.2" y="242.0" width="0.8" height="0.8" fill="rgb(76,76,76)" fill-opacity="0.53"/>
<rect x="460.4" y="252.0" width="0.8" height="0.8" fill="rgb(133,133,133)" fill-opacity="0.39"/>
<rect x="472.2" y="235.5" width="0.8" height="0.8" fill="rgb(136,136,136)" fill-opacity="0.78"/>
<rect x="469.9" y="238.8" width="0.8" height="0.8" fill="rgb(80,80,80)" fill-opacity="0.55"/>
<rect x="472.0" y="243.8" width="0.8" height="0.8" fill="rgb(78,78,78)" fill-opacity="0.31"/>
<rect x="468.5" y="233.7" width="0.8" height="0.8" fill="rgb(141,141,141)" fill-opacity="0.51"/>
<rect x="465.0" y="236.1" width="0.8" height="0.8" fill="rgb(120,120,120)" fill-opacity="0.53"/>
<rect x="465.1" y="245.8" width="0.8" height="0.8" fill="rgb(88,88,88)" fill-opacity="0.48"/>
<rect x="467.0" y="243.6" width="0.8" height="0.8" fill="rgb(110,110,110)" fill-opacity="0.61"/>
<rect x="469.0" y="244.9" width="0.8" height="0.8" fill="rgb(167,167,167)" fill-opacity="0.31"/>
<rect x="470.2" y="241.9" width="0.8" height="0.8" fill="rgb(93,93,93)" fill-opacity="0.64"/>
<rect x="465.4" y="250.6" width="0.8" height="0.8" fill="rgb(106,106,106)" fill-opacity="0.56"/>
<rect x="465.1" y="238.4" width="0.8" height="0.8" fill="rgb(91,91,91)" fill-opacity="0.58"/>
<rect x="464.9" y="243.3" width="0.8" height="0.8" fill="rgb(156,156,156)" fill-opacity="0.48"/>
<rect x="468.9" y="248.2" width="0.8" height="0.8" fill="rgb(91,91,91)" fill-opacity="0.67"/>
<rect x="466.2" y="236.0" width="0.8" height="0.8" fill="rgb(74,74,74)" fill-opacity="0.52"/>
<rect x="464.0" y="245.5" width="0.8" height="0.8" fill="rgb(71,71,71)" fill-opacity="0.78"/>
<rect x="469.8" y="243.5" width="0.8" height="0.8" fill="rgb(138,138,138)" fill-opacity="0.77"/>
<rect x="468.2" y="237.9" width="0.8" height="0.8" fill="rgb(162,162,162)" fill-opacity="0.58"/>
<rect x="467.3" y="246.8" width="0.8" height="0.8" fill="rgb(143,143,143)" fill-opacity="0.39"/>
<rect x="463.0" y="246.2" width="0.8" height="0.8" fill="rgb(152,152,152)" fill-opacity="0.70"/>
<rect x="461.3" y="249.2" width="0.8" height="0.8" fill="rgb(133,133,133)" fill-opacity="0.76"/>
<rect x="464.2" y="250.3" width="0.8" height="0.8" fill="rgb(93,93,93)" fill-opacity="0.64"/>
<rect x="467.0" y="240.8" width="0.8" height="0.8" fill="rgb(65,65,65)" fill-opacity="0.40"/>
<rect x="467.4" y="244.6" width="0.8" height="0.8" fill="rgb(167,167,167)" fill-opacity="0.48"/>
<rect x="465.3" y="240.3" width="0.8" height="0.8" fill="rgb(82,82,82)" fill-opacity="0.67"/>
<rect x="471.9" y="241.1" width="0.8" height="0.8" fill="rgb(127,127,127)" fill-opacity="0.60"/>
<rect x="461.2" y="249.5" width="0.8" height="0.8" fill="rgb(116,116,116)" fill-opacity="0.74"/>
<rect x="466.1" y="242.1" width="0.8" height="0.8" fill="rgb(98,98,98)" fill-opacity="0.55"/>
<rect x="467.4" y="243.0" width="0.8" height="0.8" fill="rgb(102,102,102)" fill-opacity="0.50"/>
<rect x="466.6" y="239.8" width="0.8" height="0.8" fill="rgb(60,60,60)" fill-opacity="0.74"/>
<rect x="466.4" y="240.3" width="0.8" height="0.8" fill="rgb(88,88,88)" fill-opacity="0.67"/>
<rect x="465.2" y="247.5" width="0.8" height="0.8" fill="rgb(159,159,159)" fill-opacity="0.72"/>
<rect x="464.5" y="241.6" width="0.8" height="0.8" fill="rgb(119,119,119)" fill-opacity="0.68"/>
<rect x="468.2" y="245.7" width="0.8" height="0.8" fill="rgb(106,106,106)" fill-opacity="0.42"/>
<rect x="473.8" y="235.0" width="0.8" height="0.8" fill="rgb(83,83,83)" fill-opacity="0.75"/>
<rect x="464.3" y="242.9" width="0.8" height="0.8" fill="rgb(139,139,139)" fill-opacity="0.41"/>
<rect x="466.1" y="242.8" width="0.8" height="0.8" fill="rgb(170,170,170)" fill-opacity="0.43"/>
<rect x="466.3" y="251.9" width="0.8" height="0.8" fill="rgb(60,60,60)" fill-opacity="0.50"/>
<rect x="464.8" y="244.9" width="0.8" height="0.8" fill="rgb(83,83,83)" fill-opacity="0.64"/>
<rect x="468.3" y="238.9" width="0.8" height="0.8" fill="rgb(83,83,83)" fill-opacity="0.72"/>
<rect x="465.4" y="239.6" width="0.8" height="0.8" fill="rgb(77,77,77)" fill-opacity="0.76"/>
<rect x="468.9" y="244.2" width="0.8" height="0.8" fill="rgb(139,139,139)" fill-opacity="0.34"/>
<rect x="468.3" y="241.7" width="0.8" height="0.8" fill="rgb(83,83,83)" fill-opacity="0.44"/>
<rect x="467.0" y="243.7" width="0.8" height="0.8" fill="rgb(106,106,106)" fill-opacity="0.74"/>
<rect x="464.7" y="249.2" width="0.8" height="0.8" fill="rgb(120,120,120)" fill-opacity="0.49"/>
<rect x="469.0" y="246.4" width="0.8" height="0.8" fill="rgb(78,78,78)" fill-opacity="0.70"/>
<rect x="470.0" y="241.3" width="0.8" height="0.8" fill="rgb(142,142,142)" fill-opacity="0.33"/>
<rect x="467.7" y="248.0" width="0.8" height="0.8" fill="rgb(69,69,69)" fill-opacity="0.76"/>
<rect x="471.3" y="240.5" width="0.8" height="0.8" fill="rgb(97,97,97)" fill-opacity="0.44"/>
<rect x="471.7" y="245.7" width="0.8" height="0.8" fill="rgb(86,86,86)" fill-opacity="0.34"/>
<rect x="468.9" y="242.9" width="0.8" height="0.8" fill="rgb(99,99,99)" fill-opacity="0.53"/>
<rect x="467.1" y="245.4" width="0.8" height="0.8" fill="rgb(103,103,103)" fill-opacity="0.53"/>
<rect x="472.2" y="248.7" width="0.8" height="0.8" fill="rgb(169,169,169)" fill-opacity="0.61"/>
<rect x="466.0" y="238.9" width="0.8" height="0.8" fill="rgb(142,142,142)" fill-opacity="0.35"/>
<rect x="466.8" y="251.1" width="0.8" height="0.8" fill="rgb(88,88,88)" fill-opacity="0.31"/>
<rect x="467.6" y="245.6" width="0.8" height="0.8" fill="rgb(159,159,159)" fill-opacity="0.34"/>
<rect x="471.1" y="237.0" width="0.8" height="0.8" fill="rgb(151,151,151)" fill-opacity="0.61"/>
<rect x="461.2" y="252.4" width="0.8" height="0.8" fill="rgb(153,153,153)" fill-opacity="0.67"/>
<rect x="463.8" y="250.6" width="0.8" height="0.8" fill="rgb(156,156,156)" fill-opacity="0.31"/>
<rect x="466.2" y="239.4" width="0.8" height="0.8" fill="rgb(170,170,170)" fill-opacity="0.57"/>
<rect x="472.4" y="247.5" width="0.8" height="0.8" fill="rgb(123,123,123)" fill-opacity="0.79"/>
<rect x="467.2" y="240.2" width="0.8" height="0.8" fill="rgb(97,97,97)" fill-opacity="0.45"/>
<rect x="468.7" y="242.8" width="0.8" height="0.8" fill="rgb(154,154,154)" fill-opacity="0.36"/>
<rect x="471.7" y="236.6" width="0.8" height="0.8" fill="rgb(105,105,105)" fill-opacity="0.75"/>
<rect x="468.7" y="234.8" width="0.8" height="0.8" fill="rgb(159,159,159)" fill-opacity="0.58"/>
<rect x="470.4" y="240.9" width="0.8" height="0.8" fill="rgb(71,71,71)" fill-opacity="0.80"/>
<rect x="465.8" y="250.7" width="0.8" height="0.8" fill="rgb(155,155,155)" fill-opacity="0.41"/>
<rect x="466.2" y="245.8" width="0.8" height="0.8" fill="rgb(83,83,83)" fill-opacity="0.63"/>
<rect x="466.4" y="249.9" width="0.8" height="0.8" fill="rgb(64,64,64)" fill-opacity="0.72"/>
<rect x="462.1" y="252.2" width="0.8" height="0.8" fill="rgb(143,143,143)" fill-opacity="0.58"/>
<rect x="470.5" y="242.1" width="0.8" height="0.8" fill="rgb(75,75,75)" fill-opacity="0.63"/>
<rect x="470.2" y="245.9" width="0.8" height="0.8" fill="rgb(108,108,108)" fill-opacity="0.37"/>
<rect x="469.5" y="237.8" width="0.8" height="0.8" fill="rgb(141,141,141)" fill-opacity="0.43"/>
<rect x="462.8" y="242.1" width="0.8" height="0.8" fill="rgb(71,71,71)" fill-opacity="0.56"/>
<rect x="464.9" y="241.9" width="0.8" height="0.8" fill="rgb(85,85,85)" fill-opacity="0.63"/>
<rect x="465.8" y="240.0" width="0.8" height="0.8" fill="rgb(128,128,128)" fill-opacity="0.77"/>
<rect x="466.2" y="254.0" width="0.8" height="0.8" fill="rgb(146,146,146)" fill-opacity="0.53"/>
<rect x="462.6" y="252.2" width="0.8" height="0.8" fill="rgb(89,89,89)" fill-opacity="0.32"/>
<rect x="464.8" y="251.1" width="0.8" height="0.8" fill="rgb(74,74,74)" fill-opacity="0.67"/>
<rect x="463.9" y="259.2" width="0.8" height="0.8" fill="rgb(103,103,103)" fill-opacity="0.51"/>
<rect x="466.5" y="251.4" width="0.8" height="0.8" fill="rgb(76,76,76)" fill-opacity="0.77"/>
<rect x="465.4" y="246.5" width="0.8" height="0.8" fill="rgb(79,79,79)" fill-opacity="0.80"/>
<rect x="460.0" y="240.9" width="0.8" height="0.8" fill="rgb(119,119,119)" fill-opacity="0.30"/>
<rect x="458.8" y="255.3" width="0.8" height="0.8" fill="rgb(166,166,166)" fill-opacity="0.32"/>
<rect x="461.8" y="252.1" width="0.8" height="0.8" fill="rgb(169,169,169)" fill-opacity="0.49"/>
<rect x="463.3" y="254.0" width="0.8" height="0.8" fill="rgb(94,94,94)" fill-opacity="0.73"/>
<rect x="466.1" y="241.8" width="0.8" height="0.8" fill="rgb(126,126,126)" fill-opacity="0.77"/>
<rect x="462.3" y="258.7" width="0.8" height="0.8" fill="rgb(123,123,123)" fill-opacity="0.54"/>
<rect x="467.9" y="240.3" width="0.8" height="0.8" fill="rgb(110,110,110)" fill-opacity="0.39"/>
<rect x="465.3" y="244.8" width="0.8" height="0.8" fill="rgb(133,133,133)" fill-opacity="0.53"/>
<rect x="458.8" y="255.2" width="0.8" height="0.8" fill="rgb(129,129,129)" fill-opacity="0.34"/>
<rect x="473.4" y="251.1" width="0.8" height="0.8" fill="rgb(134,134,134)" fill-opacity="0.53"/>
<rect x="470.7" y="257.4" width="0.8" height="0.8" fill="rgb(124,124,124)" fill-opacity="0.57"/>
<rect x="461.0" y="249.5" width="0.8" height="0.8" fill="rgb(87,87,87)" fill-opacity="0.49"/>
<rect x="466.4" y="253.4" width="0.8" height="0.8" fill="rgb(87,87,87)" fill-opacity="0.52"/>
<rect x="472.5" y="247.7" width="0.8" height="0.8" fill="rgb(124,124,124)" fill-opacity="0.49"/>
<rect x="467.3" y="237.3" width="0.8" height="0.8" fill="rgb(99,99,99)" fill-opacity="0.71"/>
<rect x="467.2" y="256.8" width="0.8" height="0.8" fill="rgb(154,154,154)" fill-opacity="0.49"/>
<rect x="467.5" y="264.1" width="0.8" height="0.8" fill="rgb(130,130,130)" fill-opacity="0.32"/>
<rect x="456.3" y="244.6" width="0.8" height="0.8" fill="rgb(129,129,129)" fill-opacity="0.68"/>
<rect x="464.5" y="254.4" width="0.8" height="0.8" fill="rgb(111,111,111)" fill-opacity="0.70"/>
<rect x="471.6" y="240.4" width="0.8" height="0.8" fill="rgb(133,133,133)" fill-opacity="0.79"/>
<rect x="465.3" y="265.1" width="0.8" height="0.8" fill="rgb(130,130,130)" fill-opacity="0.44"/>
<rect x="464.1" y="251.9" width="0.8" height="0.8" fill="rgb(139,139,139)" fill-opacity="0.78"/>
<rect x="457.9" y="249.5" width="0.8" height="0.8" fill="rgb(67,67,67)" fill-opacity="0.69"/>
<rect x="465.4" y="256.1" width="0.8" height="0.8" fill="rgb(97,97,97)" fill-opacity="0.67"/>
<rect x="465.2" y="249.1" width="0.8" height="0.8" fill="rgb(102,102,102)" fill-opacity="0.39"/>
<rect x="467.9" y="252.3" width="0.8" height="0.8" fill="rgb(155,155,155)" fill-opacity="0.52"/>
<rect x="460.5" y="237.4" width="0.8" height="0.8" fill="rgb(66,66,66)" fill-opacity="0.66"/>
<rect x="470.0" y="251.0" width="0.8" height="0.8" fill="rgb(83,83,83)" fill-opacity="0.49"/>
<rect x="463.3" y="246.9" width="0.8" height="0.8" fill="rgb(148,148,148)" fill-opacity="0.80"/>
<rect x="473.8" y="258.7" width="0.8" height="0.8" fill="rgb(157,157,157)" fill-opacity="0.69"/>
<rect x="457.6" y="256.7" width="0.8" height="0.8" fill="rgb(128,128,128)" fill-opacity="0.59"/>
<rect x="468.0" y="251.2" width="0.8" height="0.8" fill="rgb(147,147,147)" fill-opacity="0.63"/>
<rect x="464.4" y="242.4" width="0.8" height="0.8" fill="rgb(145,145,145)" fill-opacity="0.75"/>
<rect x="460.1" y="244.2" width="0.8" height="0.8" fill="rgb(73,73,73)" fill-opacity="0.72"/>
<rect x="465.0" y="251.0" width="0.8" height="0.8" fill="rgb(127,127,127)" fill-opacity="0.72"/>
<rect x="465.2" y="235.8" width="0.8" height="0.8" fill="rgb(63,63,63)" fill-opacity="0.38"/>
<rect x="463.6" y="253.7" width="0.8" height="0.8" fill="rgb(142,142,142)" fill-opacity="0.59"/>
<rect x="471.9" y="243.9" width="0.8" height="0.8" fill="rgb(73,73,73)" fill-opacity="0.49"/>
<rect x="468.9" y="244.6" width="0.8" height="0.8" fill="rgb(83,83,83)" fill-opacity="0.51"/>
<rect x="464.9" y="264.8" width="0.8" height="0.8" fill="rgb(139,139,139)" fill-opacity="0.66"/>
<rect x="463.2" y="249.8" width="0.8" height="0.8" fill="rgb(95,95,95)" fill-opacity="0.35"/>
<rect x="463.1" y="249.2" width="0.8" height="0.8" fill="rgb(164,164,164)" fill-opacity="0.63"/>
<rect x="463.1" y="246.4" width="0.8" height="0.8" fill="rgb(164,164,164)" fill-opacity="0.30"/>
<rect x="469.3" y="247.8" width="0.8" height="0.8" fill="rgb(142,142,142)" fill-opacity="0.42"/>
<rect x="463.4" y="252.9" width="0.8" height="0.8" fill="rgb(142,142,142)" fill-opacity="0.40"/>
<rect x="469.0" y="259.4" width="0.8" height="0.8" fill="rgb(91,91,91)" fill-opacity="0.79"/>
<rect x="460.3" y="258.6" width="0.8" height="0.8" fill="rgb(86,86,86)" fill-opacity="0.41"/>
<rect x="463.8" y="253.2" width="0.8" height="0.8" fill="rgb(164,164,164)" fill-opacity="0.80"/>
<rect x="462.9" y="256.6" width="0.8" height="0.8" fill="rgb(129,129,129)" fill-opacity="0.69"/>
<rect x="479.6" y="243.6" width="0.8" height="0.8" fill="rgb(65,65,65)" fill-opacity="0.68"/>
<rect x="477.2" y="246.8" width="0.8" height="0.8" fill="rgb(124,124,124)" fill-opacity="0.63"/>
<rect x="461.3" y="246.2" width="0.8" height="0.8" fill="rgb(139,139,139)" fill-opacity="0.51"/>
<rect x="457.3" y="242.1" width="0.8" height="0.8" fill="rgb(164,164,164)" fill-opacity="0.35"/>
<rect x="458.6" y="248.0" width="0.8" height="0.8" fill="rgb(89,89,89)" fill-opacity="0.76"/>
<rect x="463.2" y="248.4" width="0.8" height="0.8" fill="rgb(70,70,70)" fill-opacity="0.60"/>
<rect x="461.9" y="250.8" width="0.8" height="0.8" fill="rgb(84,84,84)" fill-opacity="0.54"/>
<rect x="462.1" y="249.8" width="0.8" height="0.8" fill="rgb(85,85,85)" fill-opacity="0.35"/>
<rect x="461.9" y="256.6" width="0.8" height="0.8" fill="rgb(91,91,91)" fill-opacity="0.59"/>
<rect x="460.7" y="251.4" width="0.8" height="0.8" fill="rgb(60,60,60)" fill-opacity="0.67"/>
<rect x="464.4" y="249.5" width="0.8" height="0.8" fill="rgb(86,86,86)" fill-opacity="0.45"/>
<rect x="466.5" y="234.4" width="0.8" height="0.8" fill="rgb(157,157,157)" fill-opacity="0.41"/>
<rect x="464.3" y="253.1" width="0.8" height="0.8" fill="rgb(63,63,63)" fill-opacity="0.36"/>
<rect x="468.1" y="256.1" width="0.8" height="0.8" fill="rgb(135,135,135)" fill-opacity="0.51"/>
<rect x="463.3" y="250.2" width="0.8" height="0.8" fill="rgb(155,155,155)" fill-opacity="0.31"/>
<rect x="470.0" y="260.3" width="0.8" height="0.8" fill="rgb(85,85,85)" fill-opacity="0.71"/>
<rect x="469.7" y="255.7" width="0.8" height="0.8" fill="rgb(126,126,126)" fill-opacity="0.76"/>
<rect x="465.9" y="248.4" width="0.8" height="0.8" fill="rgb(163,163,163)" fill-opacity="0.39"/>
<rect x="462.0" y="247.7" width="0.8" height="0.8" fill="rgb(137,137,137)" fill-opacity="0.34"/>
<rect x="463.8" y="248.7" width="0.8" height="0.8" fill="rgb(60,60,60)" fill-opacity="0.63"/>
<rect x="470.2" y="243.3" width="0.8" height="0.8" fill="rgb(118,118,118)" fill-opacity="0.53"/>
<rect x="460.9" y="243.0" width="0.8" height="0.8" fill="rgb(167,167,167)" fill-opacity="0.75"/>
<rect x="465.1" y="261.1" width="0.8" height="0.8" fill="rgb(146,146,146)" fill-opacity="0.34"/>
<rect x="466.7" y="246.8" width="0.8" height="0.8" fill="rgb(157,157,157)" fill-opacity="0.79"/>
<rect x="471.8" y="262.2" width="0.8" height="0.8" fill="rgb(70,70,70)" fill-opacity="0.51"/>
<rect x="472.4" y="224.2" width="0.8" height="0.8" fill="rgb(74,74,74)" fill-opacity="0.44"/>
<rect x="466.1" y="225.2" width="0.8" height="0.8" fill="rgb(108,108,108)" fill-opacity="0.41"/>
<rect x="471.4" y="232.2" width="0.8" height="0.8" fill="rgb(122,122,122)" fill-opacity="0.52"/>
<rect x="466.1" y="232.9" width="0.8" height="0.8" fill="rgb(100,100,100)" fill-opacity="0.66"/>
<rect x="470.4" y="232.8" width="0.8" height="0.8" fill="rgb(118,118,118)" fill-opacity="0.66"/>
<rect x="467.7" y="225.5" width="0.8" height="0.8" fill="rgb(90,90,90)" fill-opacity="0.70"/>
<rect x="466.7" y="236.2" width="0.8" height="0.8" fill="rgb(170,170,170)" fill-opacity="0.74"/>
<rect x="470.6" y="223.3" width="0.8" height="0.8" fill="rgb(111,111,111)" fill-opacity="0.43"/>
<rect x="467.7" y="233.6" width="0.8" height="0.8" fill="rgb(113,113,113)" fill-opacity="0.79"/>
<rect x="469.8" y="222.0" width="0.8" height="0.8" fill="rgb(165,165,165)" fill-opacity="0.68"/>
<rect x="471.1" y="229.8" width="0.8" height="0.8" fill="rgb(75,75,75)" fill-opacity="0.68"/>
<rect x="469.1" y="240.0" width="0.8" height="0.8" fill="rgb(109,109,109)" fill-opacity="0.74"/>
<rect x="469.1" y="231.7" width="0.8" height="0.8" fill="rgb(147,147,147)" fill-opacity="0.37"/>
<rect x="469.1" y="230.9" width="0.8" height="0.8" fill="rgb(86,86,86)" fill-opacity="0.32"/>
<rect x="473.0" y="227.9" width="0.8" height="0.8" fill="rgb(128,128,128)" fill-opacity="0.68"/>
<rect x="470.9" y="237.6" width="0.8" height="0.8" fill="rgb(104,104,104)" fill-opacity="0.64"/>
<rect x="467.5" y="217.1" width="0.8" height="0.8" fill="rgb(138,138,138)" fill-opacity="0.73"/>
<rect x="471.3" y="234.8" width="0.8" height="0.8" fill="rgb(60,60,60)" fill-opacity="0.62"/>
<rect x="469.8" y="230.6" width="0.8" height="0.8" fill="rgb(88,88,88)" fill-opacity="0.77"/>
<rect x="470.3" y="237.9" width="0.8" height="0.8" fill="rgb(127,127,127)" fill-opacity="0.67"/>
<rect x="465.7" y="234.8" width="0.8" height="0.8" fill="rgb(62,62,62)" fill-opacity="0.32"/>
<rect x="467.1" y="235.6" width="0.8" height="0.8" fill="rgb(143,143,143)" fill-opacity="0.77"/>
<rect x="470.2" y="237.4" width="0.8" height="0.8" fill="rgb(118,118,118)" fill-opacity="0.53"/>
<rect x="470.4" y="229.6" width="0.8" height="0.8" fill="rgb(82,82,82)" fill-opacity="0.45"/>
<rect x="473.4" y="229.6" width="0.8" height="0.8" fill="rgb(168,168,168)" fill-opacity="0.36"/>
<rect x="470.6" y="236.5" width="0.8" height="0.8" fill="rgb(160,160,160)" fill-opacity="0.33"/>
<rect x="469.6" y="228.3" width="0.8" height="0.8" fill="rgb(163,163,163)" fill-opacity="0.50"/>
<rect x="473.0" y="231.3" width="0.8" height="0.8" fill="rgb(140,140,140)" fill-opacity="0.36"/>
<rect x="468.5" y="231.1" width="0.8" height="0.8" fill="rgb(103,103,103)" fill-opacity="0.65"/>
<rect x="474.0" y="235.3" width="0.8" height="0.8" fill="rgb(87,87,87)" fill-opacity="0.74"/>
<rect x="472.0" y="233.7" width="0.8" height="0.8" fill="rgb(61,61,61)" fill-opacity="0.69"/>
<rect x="466.3" y="232.9" width="0.8" height="0.8" fill="rgb(150,150,150)" fill-opacity="0.32"/>
<rect x="469.1" y="230.8" width="0.8" height="0.8" fill="rgb(80,80,80)" fill-opacity="0.57"/>
<rect x="469.7" y="236.2" width="0.8" height="0.8" fill="rgb(163,163,163)" fill-opacity="0.43"/>
<rect x="464.2" y="232.5" width="0.8" height="0.8" fill="rgb(95,95,95)" fill-opacity="0.53"/>
<rect x="470.2" y="227.9" width="0.8" height="0.8" fill="rgb(60,60,60)" fill-opacity="0.61"/>
<rect x="473.1" y="232.4" width="0.8" height="0.8" fill="rgb(135,135,135)" fill-opacity="0.76"/>
<rect x="467.5" y="235.2" width="0.8" height="0.8" fill="rgb(138,138,138)" fill-opacity="0.53"/>
<rect x="467.3" y="230.3" width="0.8" height="0.8" fill="rgb(60,60,60)" fill-opacity="0.43"/>
<rect x="471.2" y="232.6" width="0.8" height="0.8" fill="rgb(142,142,142)" fill-opacity="0.47"/>
<line x1="303.8" y1="252" x2="303.8" y2="298.6" stroke="#000" stroke-width="1.8"/>
<line x1="303" y1="298.6" x2="381.5" y2="298.6" stroke="#000" stroke-width="1.8"/>
<polyline points="300.6,256 303.8,251.2 307.0,256" fill="none" stroke="#000" stroke-width="1.6"/>
<polyline points="377,295.4 381.8,298.6 377,301.8" fill="none" stroke="#000" stroke-width="1.6"/>
<text transform="translate(297.6,277.1) rotate(-90)" x="0" y="0" font-size="8.4" font-weight="normal" text-anchor="middle" fill="#111" textLength="24" lengthAdjust="spacingAndGlyphs" stroke="#111" stroke-width="0.17">FoxP3</text>
<text x="325.9" y="308.8" font-size="8.9" font-weight="normal" text-anchor="start" fill="#111" textLength="16.9" lengthAdjust="spacingAndGlyphs" stroke="#111" stroke-width="0.17">CD4</text>
</svg>
</body></html>
